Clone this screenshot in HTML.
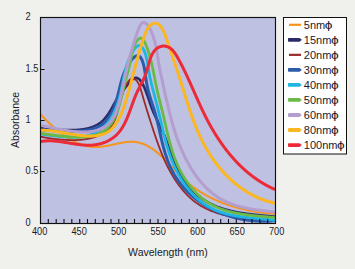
<!DOCTYPE html>
<html><head><meta charset="utf-8"><style>
html,body{margin:0;padding:0;background:#f0f0ec;}
body{width:355px;height:269px;overflow:hidden;}
svg{display:block;}
.t{font-family:"Liberation Sans",sans-serif;font-size:10.2px;fill:#1a1a2a;}
.t2{font-family:"Liberation Sans",sans-serif;font-size:10.5px;fill:#1a1a2a;}
.tl{font-family:"Liberation Sans",sans-serif;font-size:11px;fill:#1a1a2a;}
</style></head><body>
<svg width="355" height="269" viewBox="0 0 355 269">
<rect x="40" y="17" width="236" height="207" fill="#bec1e1"/>
<clipPath id="c"><rect x="40.5" y="17.5" width="235" height="206"/></clipPath>
<g clip-path="url(#c)" fill="none" stroke-linecap="round" stroke-linejoin="round">
<path d="M40.51 114.19 L40.95 114.66 L41.39 115.14 L41.84 115.61 L42.28 116.09 L42.74 116.57 L43.19 117.04 L43.65 117.52 L44.11 118.00 L44.57 118.48 L45.04 118.95 L45.50 119.43 L45.98 119.91 L46.45 120.38 L46.93 120.86 L47.41 121.34 L47.89 121.81 L48.37 122.28 L48.86 122.76 L49.35 123.23 L49.84 123.70 L50.34 124.16 L50.84 124.63 L51.34 125.10 L51.84 125.56 L52.35 126.02 L52.86 126.48 L53.37 126.94 L53.88 127.40 L54.40 127.85 L54.92 128.30 L55.44 128.75 L55.96 129.20 L56.49 129.64 L57.02 130.08 L57.55 130.52 L58.08 130.95 L58.62 131.38 L59.15 131.81 L59.69 132.23 L60.24 132.65 L60.78 133.07 L61.33 133.48 L61.88 133.89 L62.43 134.30 L62.98 134.70 L63.54 135.10 L64.10 135.49 L64.66 135.88 L65.22 136.26 L65.79 136.64 L66.36 137.01 L66.93 137.38 L67.50 137.75 L68.07 138.10 L68.65 138.46 L69.22 138.81 L69.80 139.15 L70.39 139.49 L70.97 139.82 L71.56 140.14 L72.15 140.46 L72.74 140.78 L73.33 141.08 L73.92 141.38 L74.52 141.68 L75.12 141.97 L75.72 142.25 L76.32 142.52 L76.92 142.79 L77.53 143.05 L78.13 143.30 L78.74 143.55 L79.35 143.79 L79.97 144.02 L80.58 144.25 L81.20 144.46 L81.82 144.67 L82.44 144.87 L83.06 145.06 L83.68 145.25 L84.31 145.43 L84.93 145.59 L85.56 145.75 L86.19 145.90 L86.82 146.05 L87.46 146.18 L88.09 146.30 L88.73 146.42 L89.37 146.53 L90.00 146.62 L90.65 146.71 L91.29 146.79 L91.93 146.86 L92.58 146.92 L93.23 146.96 L93.87 147.00 L94.52 147.03 L95.18 147.05 L95.83 147.06 L96.48 147.06 L97.14 147.05 L97.79 147.02 L98.45 146.99 L99.11 146.95 L99.77 146.89 L100.43 146.83 L101.10 146.77 L101.76 146.69 L102.42 146.60 L103.09 146.51 L103.76 146.42 L104.42 146.31 L105.09 146.20 L105.76 146.09 L106.43 145.97 L107.09 145.84 L107.76 145.71 L108.43 145.58 L109.10 145.44 L109.77 145.30 L110.44 145.16 L111.11 145.02 L111.78 144.87 L112.45 144.72 L113.12 144.57 L113.79 144.43 L114.46 144.28 L115.12 144.13 L115.79 143.98 L116.46 143.84 L117.12 143.69 L117.79 143.55 L118.46 143.41 L119.12 143.27 L119.78 143.14 L120.45 143.01 L121.11 142.88 L121.77 142.76 L122.43 142.64 L123.08 142.53 L123.74 142.42 L124.40 142.33 L125.05 142.23 L125.70 142.15 L126.35 142.07 L127.00 142.00 L127.65 141.93 L128.30 141.88 L128.94 141.83 L129.58 141.80 L130.22 141.77 L130.86 141.76 L131.49 141.75 L132.13 141.76 L132.76 141.78 L133.39 141.81 L134.02 141.85 L134.64 141.91 L135.26 141.97 L135.88 142.05 L136.50 142.15 L137.11 142.25 L137.73 142.37 L138.34 142.50 L138.94 142.64 L139.55 142.80 L140.15 142.96 L140.75 143.14 L141.35 143.33 L141.94 143.53 L142.53 143.73 L143.12 143.95 L143.71 144.18 L144.29 144.43 L144.87 144.68 L145.45 144.94 L146.03 145.21 L146.60 145.49 L147.17 145.77 L147.74 146.07 L148.31 146.38 L148.87 146.70 L149.43 147.02 L149.99 147.35 L150.54 147.69 L151.10 148.04 L151.65 148.40 L152.19 148.76 L152.74 149.13 L153.28 149.51 L153.82 149.90 L154.35 150.29 L154.89 150.69 L155.42 151.10 L155.95 151.51 L156.47 151.93 L157.00 152.35 L157.52 152.78 L158.03 153.22 L158.55 153.66 L159.06 154.11 L159.57 154.56 L160.08 155.01 L160.58 155.47 L161.08 155.94 L161.58 156.41 L162.08 156.88 L162.58 157.36 L163.07 157.84 L163.57 158.33 L164.06 158.81 L164.55 159.31 L165.04 159.80 L165.52 160.30 L166.01 160.80 L166.49 161.30 L166.98 161.80 L167.46 162.31 L167.94 162.81 L168.42 163.32 L168.90 163.83 L169.38 164.35 L169.86 164.86 L170.33 165.37 L170.81 165.89 L171.29 166.40 L171.76 166.92 L172.24 167.43 L172.71 167.95 L173.19 168.46 L173.67 168.98 L174.14 169.49 L174.62 170.00 L175.10 170.51 L175.57 171.02 L176.05 171.53 L176.53 172.04 L177.01 172.54 L177.49 173.05 L177.97 173.55 L178.45 174.05 L178.93 174.54 L179.42 175.04 L179.90 175.53 L180.39 176.01 L180.88 176.50 L181.37 176.98 L181.86 177.45 L182.35 177.93 L182.84 178.39 L183.34 178.86 L183.84 179.32 L184.34 179.78 L184.84 180.23 L185.34 180.68 L185.85 181.12 L186.35 181.56 L186.86 182.00 L187.37 182.43 L187.88 182.86 L188.40 183.29 L188.91 183.71 L189.43 184.13 L189.95 184.55 L190.47 184.96 L190.99 185.37 L191.52 185.77 L192.04 186.17 L192.57 186.57 L193.10 186.96 L193.64 187.35 L194.17 187.74 L194.71 188.13 L195.24 188.51 L195.79 188.88 L196.33 189.26 L196.87 189.63 L197.42 190.00 L197.97 190.36 L198.52 190.72 L199.07 191.08 L199.63 191.43 L200.18 191.79 L200.74 192.14 L201.30 192.48 L201.87 192.82 L202.43 193.16 L203.00 193.50 L203.57 193.83 L204.14 194.16 L204.71 194.49 L205.29 194.82 L205.87 195.14 L206.44 195.46 L207.03 195.77 L207.61 196.09 L208.19 196.40 L208.78 196.70 L209.37 197.01 L209.96 197.31 L210.55 197.61 L211.15 197.90 L211.74 198.19 L212.34 198.48 L212.94 198.77 L213.54 199.06 L214.14 199.34 L214.75 199.61 L215.35 199.89 L215.96 200.16 L216.57 200.43 L217.18 200.70 L217.79 200.96 L218.41 201.22 L219.02 201.48 L219.64 201.74 L220.26 201.99 L220.88 202.24 L221.50 202.49 L222.12 202.73 L222.74 202.97 L223.37 203.21 L224.00 203.45 L224.62 203.68 L225.25 203.91 L225.88 204.14 L226.51 204.36 L227.15 204.58 L227.78 204.80 L228.41 205.02 L229.05 205.23 L229.69 205.44 L230.32 205.65 L230.96 205.86 L231.60 206.06 L232.24 206.26 L232.89 206.46 L233.53 206.65 L234.17 206.85 L234.82 207.04 L235.46 207.22 L236.11 207.41 L236.76 207.59 L237.41 207.77 L238.06 207.94 L238.71 208.12 L239.36 208.29 L240.01 208.46 L240.66 208.62 L241.31 208.79 L241.97 208.95 L242.62 209.10 L243.28 209.26 L243.93 209.41 L244.59 209.56 L245.24 209.71 L245.90 209.86 L246.56 210.00 L247.22 210.14 L247.87 210.28 L248.53 210.41 L249.19 210.54 L249.85 210.67 L250.51 210.80 L251.17 210.93 L251.83 211.05 L252.50 211.17 L253.16 211.29 L253.82 211.40 L254.48 211.51 L255.14 211.62 L255.80 211.73 L256.47 211.83 L257.13 211.94 L257.79 212.04 L258.46 212.14 L259.12 212.23 L259.78 212.32 L260.45 212.41 L261.11 212.50 L261.77 212.59 L262.43 212.67 L263.10 212.75 L263.76 212.83 L264.42 212.90 L265.09 212.98 L265.75 213.05 L266.41 213.12 L267.07 213.18 L267.74 213.25 L268.40 213.31 L269.06 213.37 L269.72 213.43 L270.38 213.48 L271.04 213.53 L271.70 213.58 L272.36 213.63 L273.02 213.68 L273.68 213.72 L274.34 213.76 L275.00 213.80" stroke="#f7941d" stroke-width="2.0"/>
<path d="M40.50 128.20 L41.09 128.23 L41.67 128.27 L42.27 128.31 L42.87 128.35 L43.48 128.40 L44.09 128.45 L44.70 128.49 L45.33 128.54 L45.95 128.60 L46.59 128.65 L47.22 128.70 L47.86 128.76 L48.51 128.81 L49.16 128.87 L49.81 128.93 L50.47 128.99 L51.14 129.05 L51.80 129.10 L52.47 129.16 L53.14 129.22 L53.82 129.28 L54.50 129.33 L55.18 129.39 L55.87 129.45 L56.55 129.50 L57.24 129.55 L57.93 129.61 L58.63 129.66 L59.32 129.71 L60.02 129.75 L60.72 129.80 L61.42 129.84 L62.12 129.88 L62.83 129.92 L63.53 129.96 L64.24 129.99 L64.94 130.02 L65.65 130.05 L66.36 130.07 L67.06 130.09 L67.77 130.11 L68.48 130.13 L69.19 130.14 L69.89 130.14 L70.60 130.14 L71.31 130.14 L72.01 130.13 L72.71 130.12 L73.42 130.11 L74.12 130.09 L74.82 130.06 L75.52 130.03 L76.21 129.99 L76.91 129.95 L77.60 129.90 L78.29 129.85 L78.98 129.79 L79.66 129.72 L80.35 129.65 L81.02 129.57 L81.70 129.49 L82.38 129.40 L83.05 129.30 L83.71 129.19 L84.38 129.08 L85.03 128.96 L85.69 128.83 L86.34 128.70 L86.99 128.55 L87.63 128.40 L88.27 128.24 L88.90 128.08 L89.53 127.90 L90.15 127.71 L90.77 127.52 L91.39 127.32 L91.99 127.11 L92.59 126.89 L93.19 126.66 L93.78 126.42 L94.36 126.17 L94.94 125.91 L95.51 125.64 L96.08 125.36 L96.64 125.07 L97.19 124.77 L97.73 124.46 L98.27 124.13 L98.80 123.80 L99.32 123.46 L99.83 123.10 L100.34 122.74 L100.84 122.36 L101.33 121.97 L101.81 121.57 L102.28 121.15 L102.75 120.73 L103.20 120.29 L103.65 119.84 L104.09 119.38 L104.53 118.90 L104.95 118.42 L105.37 117.93 L105.78 117.43 L106.18 116.92 L106.58 116.40 L106.97 115.87 L107.36 115.33 L107.74 114.79 L108.11 114.24 L108.48 113.68 L108.85 113.12 L109.21 112.55 L109.57 111.98 L109.92 111.40 L110.27 110.82 L110.62 110.23 L110.96 109.64 L111.30 109.05 L111.64 108.45 L111.97 107.86 L112.31 107.26 L112.64 106.66 L112.97 106.05 L113.30 105.45 L113.63 104.85 L113.96 104.25 L114.29 103.65 L114.62 103.05 L114.95 102.45 L115.28 101.86 L115.62 101.27 L115.95 100.68 L116.28 100.09 L116.62 99.51 L116.96 98.93 L117.30 98.36 L117.64 97.79 L117.99 97.23 L118.34 96.68 L118.69 96.13 L119.05 95.59 L119.41 95.05 L119.78 94.52 L120.15 94.00 L120.52 93.48 L120.90 92.97 L121.28 92.45 L121.67 91.94 L122.07 91.43 L122.47 90.92 L122.87 90.41 L123.29 89.90 L123.70 89.38 L124.13 88.86 L124.56 88.34 L124.99 87.81 L125.44 87.28 L125.89 86.74 L126.34 86.19 L126.81 85.63 L127.28 85.06 L127.76 84.48 L128.24 83.90 L128.73 83.31 L129.23 82.72 L129.73 82.14 L130.24 81.57 L130.74 81.02 L131.25 80.50 L131.75 80.01 L132.26 79.55 L132.76 79.14 L133.25 78.78 L133.74 78.47 L134.23 78.23 L134.70 78.04 L135.17 77.92 L135.64 77.85 L136.09 77.84 L136.54 77.89 L136.98 77.98 L137.42 78.13 L137.84 78.32 L138.26 78.56 L138.68 78.85 L139.08 79.17 L139.48 79.54 L139.88 79.94 L140.26 80.38 L140.64 80.85 L141.02 81.35 L141.38 81.88 L141.74 82.44 L142.10 83.02 L142.44 83.63 L142.78 84.26 L143.12 84.90 L143.44 85.56 L143.77 86.24 L144.08 86.92 L144.39 87.62 L144.69 88.33 L144.99 89.04 L145.28 89.75 L145.56 90.47 L145.84 91.19 L146.11 91.90 L146.38 92.61 L146.64 93.32 L146.89 94.02 L147.14 94.71 L147.38 95.39 L147.62 96.07 L147.86 96.75 L148.09 97.42 L148.32 98.09 L148.54 98.75 L148.76 99.40 L148.98 100.05 L149.20 100.70 L149.42 101.34 L149.64 101.98 L149.85 102.62 L150.07 103.25 L150.28 103.87 L150.49 104.50 L150.71 105.12 L150.93 105.74 L151.15 106.35 L151.37 106.96 L151.59 107.57 L151.81 108.18 L152.04 108.78 L152.27 109.39 L152.51 109.99 L152.74 110.59 L152.99 111.18 L153.24 111.78 L153.49 112.37 L153.75 112.97 L154.01 113.56 L154.27 114.15 L154.54 114.74 L154.81 115.33 L155.09 115.92 L155.37 116.51 L155.65 117.10 L155.93 117.68 L156.22 118.27 L156.51 118.86 L156.80 119.45 L157.09 120.03 L157.39 120.62 L157.68 121.21 L157.97 121.80 L158.27 122.39 L158.57 122.98 L158.86 123.57 L159.16 124.16 L159.45 124.75 L159.75 125.34 L160.04 125.94 L160.34 126.53 L160.63 127.13 L160.92 127.73 L161.21 128.33 L161.49 128.93 L161.78 129.54 L162.06 130.14 L162.34 130.75 L162.61 131.36 L162.89 131.97 L163.16 132.59 L163.42 133.21 L163.68 133.83 L163.94 134.45 L164.20 135.07 L164.46 135.70 L164.71 136.32 L164.96 136.95 L165.21 137.58 L165.45 138.21 L165.69 138.85 L165.94 139.48 L166.17 140.12 L166.41 140.75 L166.65 141.39 L166.88 142.03 L167.12 142.67 L167.35 143.31 L167.58 143.95 L167.81 144.59 L168.04 145.24 L168.26 145.88 L168.49 146.53 L168.72 147.17 L168.95 147.81 L169.17 148.46 L169.40 149.10 L169.62 149.75 L169.85 150.39 L170.08 151.04 L170.30 151.68 L170.53 152.33 L170.76 152.97 L170.98 153.61 L171.21 154.26 L171.44 154.90 L171.67 155.54 L171.90 156.18 L172.14 156.82 L172.37 157.46 L172.61 158.10 L172.85 158.73 L173.09 159.37 L173.33 160.00 L173.57 160.64 L173.81 161.27 L174.06 161.90 L174.31 162.52 L174.56 163.15 L174.82 163.78 L175.08 164.40 L175.34 165.02 L175.60 165.64 L175.86 166.25 L176.13 166.87 L176.41 167.48 L176.68 168.09 L176.96 168.70 L177.24 169.30 L177.53 169.90 L177.82 170.50 L178.12 171.10 L178.41 171.69 L178.72 172.28 L179.02 172.87 L179.34 173.45 L179.65 174.03 L179.97 174.61 L180.30 175.19 L180.63 175.76 L180.97 176.32 L181.31 176.89 L181.65 177.45 L182.00 178.00 L182.36 178.56 L182.72 179.11 L183.08 179.65 L183.45 180.19 L183.83 180.73 L184.21 181.27 L184.59 181.80 L184.98 182.32 L185.38 182.85 L185.78 183.36 L186.18 183.88 L186.59 184.39 L187.00 184.90 L187.42 185.40 L187.84 185.90 L188.26 186.40 L188.69 186.89 L189.13 187.37 L189.57 187.86 L190.01 188.34 L190.46 188.81 L190.91 189.28 L191.37 189.75 L191.83 190.21 L192.29 190.67 L192.76 191.12 L193.23 191.57 L193.71 192.02 L194.19 192.46 L194.68 192.90 L195.16 193.33 L195.66 193.76 L196.15 194.18 L196.65 194.60 L197.16 195.02 L197.67 195.43 L198.18 195.84 L198.69 196.24 L199.21 196.64 L199.73 197.03 L200.26 197.42 L200.79 197.80 L201.32 198.18 L201.86 198.55 L202.40 198.92 L202.95 199.29 L203.49 199.65 L204.04 200.01 L204.60 200.36 L205.16 200.70 L205.72 201.05 L206.28 201.38 L206.85 201.72 L207.42 202.04 L207.99 202.37 L208.57 202.68 L209.15 203.00 L209.73 203.30 L210.32 203.61 L210.91 203.90 L211.50 204.20 L212.09 204.48 L212.69 204.77 L213.29 205.05 L213.90 205.32 L214.50 205.59 L215.11 205.85 L215.72 206.11 L216.34 206.36 L216.95 206.61 L217.57 206.85 L218.19 207.09 L218.82 207.32 L219.45 207.55 L220.08 207.77 L220.71 207.99 L221.34 208.21 L221.98 208.42 L222.61 208.62 L223.25 208.82 L223.90 209.02 L224.54 209.21 L225.18 209.40 L225.83 209.59 L226.48 209.77 L227.13 209.95 L227.79 210.12 L228.44 210.29 L229.10 210.46 L229.75 210.62 L230.41 210.78 L231.07 210.94 L231.73 211.09 L232.40 211.24 L233.06 211.38 L233.73 211.52 L234.39 211.66 L235.06 211.80 L235.73 211.93 L236.40 212.06 L237.07 212.19 L237.74 212.31 L238.41 212.43 L239.08 212.55 L239.76 212.67 L240.43 212.78 L241.11 212.89 L241.78 213.00 L242.46 213.11 L243.13 213.21 L243.81 213.31 L244.49 213.41 L245.16 213.51 L245.84 213.60 L246.52 213.69 L247.19 213.78 L247.87 213.87 L248.55 213.96 L249.23 214.05 L249.90 214.13 L250.58 214.21 L251.26 214.29 L251.93 214.37 L252.61 214.45 L253.29 214.53 L253.96 214.60 L254.64 214.67 L255.31 214.75 L255.98 214.82 L256.66 214.89 L257.33 214.96 L258.00 215.03 L258.67 215.09 L259.34 215.16 L260.01 215.23 L260.67 215.29 L261.34 215.36 L262.01 215.42 L262.67 215.49 L263.33 215.55 L264.00 215.61 L264.66 215.68 L265.31 215.74 L265.97 215.80 L266.63 215.87 L267.28 215.93 L267.94 215.99 L268.59 216.05 L269.24 216.12 L269.88 216.18 L270.53 216.24 L271.17 216.31 L271.82 216.37 L272.46 216.44 L273.09 216.50 L273.73 216.57 L274.36 216.64 L275.00 216.70" stroke="#2a2c6a" stroke-width="2.6"/>
<path d="M40.51 136.69 L41.08 136.80 L41.65 136.91 L42.23 137.01 L42.81 137.12 L43.40 137.23 L44.00 137.34 L44.60 137.44 L45.21 137.55 L45.82 137.65 L46.44 137.75 L47.07 137.86 L47.70 137.96 L48.33 138.06 L48.97 138.15 L49.62 138.25 L50.27 138.35 L50.92 138.44 L51.58 138.53 L52.24 138.63 L52.90 138.71 L53.57 138.80 L54.25 138.89 L54.92 138.97 L55.60 139.05 L56.29 139.13 L56.97 139.21 L57.66 139.28 L58.35 139.35 L59.05 139.42 L59.74 139.49 L60.44 139.55 L61.14 139.61 L61.85 139.67 L62.55 139.72 L63.26 139.77 L63.97 139.82 L64.68 139.86 L65.39 139.90 L66.10 139.94 L66.81 139.97 L67.53 140.00 L68.24 140.03 L68.95 140.05 L69.67 140.07 L70.38 140.08 L71.10 140.09 L71.81 140.10 L72.53 140.10 L73.24 140.09 L73.96 140.09 L74.67 140.07 L75.38 140.06 L76.09 140.03 L76.80 140.01 L77.51 139.97 L78.22 139.94 L78.92 139.89 L79.62 139.85 L80.33 139.79 L81.02 139.73 L81.72 139.67 L82.42 139.60 L83.11 139.52 L83.80 139.44 L84.48 139.35 L85.17 139.26 L85.85 139.16 L86.52 139.06 L87.20 138.94 L87.87 138.83 L88.53 138.70 L89.20 138.57 L89.85 138.43 L90.51 138.29 L91.16 138.13 L91.80 137.97 L92.44 137.81 L93.08 137.64 L93.71 137.46 L94.33 137.27 L94.95 137.07 L95.57 136.87 L96.18 136.66 L96.78 136.44 L97.38 136.22 L97.97 135.98 L98.55 135.74 L99.13 135.49 L99.70 135.24 L100.27 134.97 L100.83 134.70 L101.38 134.42 L101.92 134.12 L102.46 133.83 L102.99 133.52 L103.51 133.20 L104.03 132.88 L104.53 132.54 L105.03 132.20 L105.52 131.84 L106.01 131.48 L106.48 131.11 L106.95 130.73 L107.40 130.34 L107.85 129.94 L108.29 129.53 L108.72 129.11 L109.14 128.68 L109.55 128.24 L109.95 127.79 L110.34 127.34 L110.72 126.87 L111.09 126.39 L111.45 125.90 L111.80 125.40 L112.14 124.88 L112.47 124.36 L112.79 123.83 L113.10 123.29 L113.41 122.74 L113.70 122.18 L113.99 121.62 L114.26 121.04 L114.53 120.46 L114.80 119.86 L115.05 119.26 L115.30 118.66 L115.55 118.04 L115.78 117.42 L116.01 116.79 L116.24 116.16 L116.46 115.52 L116.68 114.87 L116.89 114.22 L117.10 113.56 L117.30 112.89 L117.50 112.22 L117.70 111.55 L117.90 110.87 L118.09 110.19 L118.28 109.51 L118.47 108.82 L118.66 108.12 L118.85 107.43 L119.03 106.73 L119.22 106.02 L119.40 105.32 L119.59 104.61 L119.77 103.90 L119.96 103.19 L120.15 102.48 L120.34 101.77 L120.53 101.05 L120.72 100.34 L120.92 99.62 L121.12 98.91 L121.32 98.19 L121.53 97.48 L121.73 96.76 L121.95 96.05 L122.17 95.33 L122.39 94.62 L122.62 93.91 L122.85 93.21 L123.09 92.50 L123.33 91.80 L123.58 91.10 L123.84 90.40 L124.10 89.70 L124.38 89.01 L124.66 88.32 L124.94 87.64 L125.24 86.96 L125.54 86.28 L125.86 85.62 L126.18 84.97 L126.51 84.33 L126.84 83.71 L127.19 83.10 L127.54 82.53 L127.90 81.97 L128.26 81.45 L128.64 80.96 L129.02 80.50 L129.41 80.08 L129.80 79.70 L130.20 79.36 L130.61 79.07 L131.02 78.83 L131.45 78.63 L131.87 78.50 L132.31 78.41 L132.75 78.39 L133.19 78.43 L133.64 78.54 L134.10 78.72 L134.56 78.96 L135.02 79.26 L135.48 79.62 L135.93 80.02 L136.36 80.48 L136.78 80.96 L137.19 81.48 L137.57 82.03 L137.93 82.61 L138.28 83.21 L138.61 83.83 L138.92 84.48 L139.22 85.14 L139.51 85.82 L139.78 86.51 L140.04 87.22 L140.30 87.94 L140.54 88.67 L140.78 89.40 L141.00 90.14 L141.23 90.89 L141.44 91.63 L141.66 92.38 L141.87 93.12 L142.08 93.86 L142.29 94.59 L142.50 95.32 L142.71 96.04 L142.92 96.75 L143.12 97.47 L143.33 98.17 L143.53 98.88 L143.74 99.57 L143.94 100.27 L144.15 100.96 L144.35 101.64 L144.55 102.32 L144.75 103.00 L144.95 103.67 L145.16 104.34 L145.36 105.01 L145.56 105.67 L145.75 106.33 L145.95 106.99 L146.15 107.64 L146.35 108.29 L146.55 108.93 L146.75 109.58 L146.94 110.22 L147.14 110.86 L147.34 111.49 L147.53 112.13 L147.73 112.76 L147.93 113.39 L148.12 114.01 L148.32 114.64 L148.51 115.26 L148.71 115.88 L148.91 116.51 L149.10 117.12 L149.30 117.74 L149.49 118.36 L149.69 118.97 L149.89 119.59 L150.08 120.20 L150.28 120.81 L150.48 121.43 L150.67 122.04 L150.87 122.65 L151.07 123.26 L151.26 123.87 L151.46 124.48 L151.66 125.09 L151.86 125.70 L152.06 126.31 L152.26 126.92 L152.46 127.54 L152.66 128.15 L152.86 128.76 L153.06 129.38 L153.26 129.99 L153.46 130.61 L153.67 131.22 L153.87 131.84 L154.07 132.46 L154.28 133.08 L154.48 133.69 L154.69 134.31 L154.90 134.93 L155.11 135.55 L155.32 136.17 L155.53 136.79 L155.74 137.42 L155.95 138.04 L156.16 138.66 L156.38 139.28 L156.59 139.90 L156.81 140.53 L157.03 141.15 L157.25 141.77 L157.47 142.40 L157.69 143.02 L157.91 143.64 L158.14 144.27 L158.37 144.89 L158.59 145.51 L158.82 146.14 L159.05 146.76 L159.29 147.38 L159.52 148.01 L159.76 148.63 L160.00 149.25 L160.24 149.88 L160.48 150.50 L160.72 151.12 L160.97 151.74 L161.21 152.36 L161.46 152.99 L161.71 153.61 L161.97 154.23 L162.22 154.85 L162.48 155.47 L162.74 156.09 L163.00 156.71 L163.27 157.33 L163.53 157.94 L163.80 158.56 L164.07 159.18 L164.35 159.79 L164.62 160.41 L164.90 161.02 L165.18 161.64 L165.47 162.25 L165.75 162.86 L166.04 163.48 L166.33 164.09 L166.63 164.70 L166.92 165.31 L167.22 165.91 L167.53 166.52 L167.83 167.13 L168.14 167.73 L168.45 168.34 L168.77 168.94 L169.08 169.54 L169.40 170.14 L169.73 170.74 L170.05 171.34 L170.38 171.94 L170.72 172.53 L171.05 173.13 L171.39 173.72 L171.73 174.31 L172.08 174.90 L172.42 175.49 L172.77 176.07 L173.13 176.65 L173.49 177.23 L173.85 177.81 L174.21 178.39 L174.57 178.96 L174.94 179.54 L175.32 180.11 L175.69 180.67 L176.07 181.24 L176.45 181.80 L176.84 182.36 L177.23 182.92 L177.62 183.47 L178.01 184.02 L178.41 184.57 L178.81 185.12 L179.22 185.66 L179.62 186.20 L180.04 186.74 L180.45 187.27 L180.87 187.80 L181.29 188.33 L181.71 188.85 L182.14 189.37 L182.57 189.88 L183.01 190.40 L183.44 190.90 L183.88 191.41 L184.33 191.91 L184.78 192.41 L185.23 192.90 L185.68 193.39 L186.14 193.87 L186.60 194.35 L187.06 194.83 L187.53 195.30 L188.00 195.77 L188.48 196.23 L188.96 196.69 L189.44 197.15 L189.92 197.60 L190.41 198.04 L190.91 198.48 L191.40 198.92 L191.90 199.35 L192.40 199.77 L192.91 200.20 L193.42 200.61 L193.93 201.02 L194.45 201.43 L194.97 201.83 L195.49 202.22 L196.02 202.61 L196.55 202.99 L197.09 203.37 L197.63 203.74 L198.17 204.11 L198.72 204.47 L199.26 204.82 L199.82 205.17 L200.37 205.52 L200.93 205.86 L201.50 206.19 L202.06 206.52 L202.63 206.84 L203.21 207.15 L203.78 207.47 L204.36 207.77 L204.95 208.07 L205.53 208.37 L206.12 208.66 L206.71 208.94 L207.31 209.22 L207.90 209.50 L208.50 209.77 L209.11 210.04 L209.71 210.30 L210.32 210.55 L210.93 210.81 L211.55 211.05 L212.16 211.29 L212.78 211.53 L213.40 211.77 L214.02 211.99 L214.65 212.22 L215.28 212.44 L215.91 212.65 L216.54 212.87 L217.18 213.07 L217.81 213.28 L218.45 213.48 L219.09 213.67 L219.73 213.86 L220.38 214.05 L221.02 214.23 L221.67 214.41 L222.32 214.59 L222.97 214.76 L223.63 214.93 L224.28 215.09 L224.94 215.25 L225.59 215.41 L226.25 215.56 L226.91 215.72 L227.58 215.86 L228.24 216.01 L228.90 216.15 L229.57 216.28 L230.24 216.42 L230.90 216.55 L231.57 216.68 L232.24 216.80 L232.91 216.92 L233.59 217.04 L234.26 217.16 L234.93 217.27 L235.61 217.38 L236.28 217.49 L236.96 217.60 L237.63 217.70 L238.31 217.80 L238.99 217.89 L239.67 217.99 L240.34 218.08 L241.02 218.17 L241.70 218.26 L242.38 218.35 L243.06 218.43 L243.74 218.51 L244.42 218.59 L245.10 218.67 L245.78 218.74 L246.46 218.81 L247.14 218.88 L247.82 218.95 L248.50 219.02 L249.18 219.09 L249.86 219.15 L250.54 219.21 L251.22 219.27 L251.89 219.33 L252.57 219.39 L253.25 219.44 L253.93 219.50 L254.60 219.55 L255.28 219.60 L255.95 219.66 L256.63 219.70 L257.30 219.75 L257.97 219.80 L258.64 219.85 L259.31 219.89 L259.98 219.93 L260.65 219.98 L261.32 220.02 L261.99 220.06 L262.65 220.10 L263.31 220.14 L263.98 220.18 L264.64 220.22 L265.30 220.26 L265.96 220.30 L266.61 220.33 L267.27 220.37 L267.92 220.41 L268.58 220.44 L269.23 220.48 L269.88 220.51 L270.52 220.55 L271.17 220.59 L271.81 220.62 L272.45 220.66 L273.09 220.69 L273.73 220.73 L274.37 220.76 L275.00 220.80" stroke="#9a2b2b" stroke-width="1.8"/>
<path d="M40.50 130.00 L41.02 130.00 L41.54 130.01 L42.07 130.02 L42.61 130.03 L43.16 130.05 L43.72 130.07 L44.28 130.09 L44.86 130.11 L45.44 130.14 L46.03 130.17 L46.62 130.20 L47.23 130.24 L47.84 130.27 L48.46 130.31 L49.08 130.35 L49.71 130.39 L50.35 130.43 L50.99 130.47 L51.64 130.51 L52.30 130.56 L52.96 130.60 L53.62 130.65 L54.29 130.69 L54.97 130.74 L55.65 130.78 L56.33 130.83 L57.02 130.87 L57.72 130.92 L58.41 130.96 L59.11 131.00 L59.81 131.04 L60.52 131.08 L61.23 131.12 L61.94 131.16 L62.66 131.19 L63.38 131.23 L64.10 131.26 L64.82 131.29 L65.54 131.31 L66.27 131.34 L66.99 131.36 L67.72 131.38 L68.45 131.39 L69.18 131.41 L69.91 131.42 L70.64 131.42 L71.37 131.42 L72.10 131.42 L72.83 131.42 L73.56 131.41 L74.29 131.39 L75.02 131.37 L75.75 131.35 L76.47 131.32 L77.20 131.29 L77.92 131.25 L78.64 131.21 L79.36 131.16 L80.08 131.10 L80.79 131.04 L81.51 130.98 L82.22 130.91 L82.92 130.83 L83.62 130.74 L84.32 130.65 L85.02 130.55 L85.71 130.45 L86.40 130.34 L87.08 130.22 L87.76 130.09 L88.44 129.96 L89.11 129.81 L89.77 129.66 L90.43 129.51 L91.09 129.34 L91.74 129.17 L92.38 128.98 L93.02 128.79 L93.65 128.59 L94.27 128.38 L94.89 128.16 L95.50 127.94 L96.10 127.70 L96.70 127.45 L97.29 127.19 L97.87 126.93 L98.44 126.65 L99.00 126.36 L99.56 126.07 L100.11 125.76 L100.65 125.44 L101.18 125.11 L101.70 124.77 L102.21 124.41 L102.72 124.05 L103.21 123.68 L103.69 123.29 L104.17 122.89 L104.63 122.48 L105.08 122.06 L105.53 121.62 L105.96 121.18 L106.39 120.72 L106.80 120.26 L107.21 119.78 L107.61 119.30 L107.99 118.80 L108.38 118.30 L108.75 117.79 L109.11 117.26 L109.47 116.73 L109.81 116.20 L110.15 115.65 L110.49 115.09 L110.81 114.53 L111.13 113.96 L111.44 113.39 L111.74 112.81 L112.04 112.22 L112.33 111.62 L112.61 111.02 L112.88 110.41 L113.15 109.80 L113.42 109.18 L113.68 108.56 L113.93 107.94 L114.17 107.30 L114.41 106.67 L114.65 106.03 L114.88 105.39 L115.10 104.74 L115.32 104.10 L115.54 103.45 L115.75 102.79 L115.96 102.14 L116.16 101.48 L116.36 100.82 L116.55 100.16 L116.74 99.50 L116.93 98.84 L117.11 98.17 L117.29 97.51 L117.46 96.85 L117.64 96.18 L117.81 95.52 L117.97 94.86 L118.14 94.20 L118.30 93.53 L118.46 92.87 L118.62 92.21 L118.78 91.55 L118.94 90.90 L119.09 90.24 L119.25 89.58 L119.41 88.92 L119.56 88.27 L119.72 87.61 L119.88 86.96 L120.03 86.31 L120.19 85.66 L120.35 85.01 L120.52 84.36 L120.68 83.71 L120.85 83.06 L121.02 82.41 L121.19 81.77 L121.37 81.12 L121.55 80.48 L121.74 79.84 L121.92 79.20 L122.12 78.56 L122.31 77.92 L122.52 77.28 L122.72 76.64 L122.94 76.01 L123.15 75.38 L123.38 74.75 L123.61 74.12 L123.85 73.49 L124.09 72.86 L124.35 72.24 L124.61 71.61 L124.87 70.99 L125.15 70.37 L125.43 69.75 L125.73 69.13 L126.03 68.52 L126.34 67.90 L126.66 67.29 L126.99 66.68 L127.33 66.07 L127.68 65.47 L128.04 64.86 L128.41 64.26 L128.80 63.66 L129.19 63.06 L129.60 62.47 L130.02 61.87 L130.44 61.29 L130.88 60.71 L131.33 60.15 L131.78 59.61 L132.24 59.08 L132.70 58.58 L133.17 58.11 L133.64 57.66 L134.11 57.26 L134.58 56.89 L135.05 56.56 L135.52 56.27 L135.99 56.03 L136.45 55.85 L136.91 55.71 L137.36 55.64 L137.80 55.63 L138.24 55.68 L138.66 55.80 L139.08 55.99 L139.48 56.25 L139.87 56.60 L140.25 57.01 L140.62 57.49 L140.97 58.02 L141.30 58.61 L141.63 59.24 L141.94 59.92 L142.23 60.62 L142.51 61.35 L142.77 62.11 L143.02 62.87 L143.26 63.65 L143.47 64.42 L143.68 65.20 L143.87 65.98 L144.05 66.77 L144.21 67.55 L144.36 68.33 L144.51 69.11 L144.65 69.89 L144.77 70.66 L144.90 71.44 L145.01 72.21 L145.12 72.97 L145.23 73.74 L145.33 74.49 L145.43 75.24 L145.53 75.99 L145.63 76.73 L145.73 77.46 L145.84 78.18 L145.94 78.89 L146.05 79.60 L146.16 80.30 L146.27 80.99 L146.38 81.67 L146.50 82.35 L146.62 83.02 L146.74 83.69 L146.86 84.35 L146.99 85.00 L147.12 85.65 L147.25 86.30 L147.38 86.94 L147.52 87.57 L147.66 88.20 L147.80 88.83 L147.94 89.45 L148.09 90.07 L148.24 90.69 L148.40 91.30 L148.55 91.91 L148.71 92.52 L148.88 93.12 L149.04 93.73 L149.21 94.33 L149.39 94.93 L149.56 95.53 L149.74 96.13 L149.92 96.73 L150.11 97.33 L150.30 97.93 L150.49 98.52 L150.68 99.12 L150.87 99.72 L151.07 100.32 L151.26 100.92 L151.46 101.51 L151.66 102.11 L151.86 102.71 L152.06 103.31 L152.26 103.91 L152.46 104.52 L152.66 105.12 L152.86 105.73 L153.06 106.33 L153.26 106.94 L153.46 107.55 L153.65 108.16 L153.85 108.78 L154.04 109.40 L154.23 110.01 L154.42 110.64 L154.60 111.26 L154.79 111.89 L154.97 112.52 L155.15 113.15 L155.33 113.78 L155.51 114.42 L155.68 115.06 L155.85 115.70 L156.02 116.34 L156.19 116.99 L156.36 117.64 L156.53 118.28 L156.69 118.94 L156.86 119.59 L157.02 120.24 L157.18 120.90 L157.34 121.56 L157.50 122.22 L157.66 122.88 L157.82 123.54 L157.97 124.20 L158.13 124.87 L158.29 125.53 L158.44 126.20 L158.60 126.87 L158.75 127.53 L158.91 128.20 L159.06 128.88 L159.21 129.55 L159.37 130.22 L159.52 130.89 L159.68 131.57 L159.83 132.24 L159.99 132.91 L160.14 133.59 L160.30 134.26 L160.45 134.94 L160.61 135.62 L160.77 136.29 L160.92 136.97 L161.08 137.64 L161.24 138.32 L161.40 139.00 L161.57 139.67 L161.73 140.35 L161.89 141.02 L162.06 141.70 L162.22 142.37 L162.39 143.05 L162.56 143.72 L162.73 144.39 L162.91 145.07 L163.08 145.74 L163.26 146.41 L163.44 147.08 L163.62 147.75 L163.80 148.41 L163.98 149.08 L164.17 149.75 L164.36 150.41 L164.55 151.07 L164.74 151.74 L164.94 152.40 L165.14 153.06 L165.34 153.71 L165.55 154.37 L165.75 155.02 L165.96 155.68 L166.18 156.33 L166.39 156.98 L166.61 157.62 L166.83 158.27 L167.06 158.91 L167.29 159.55 L167.52 160.19 L167.76 160.83 L168.00 161.46 L168.24 162.09 L168.49 162.72 L168.74 163.35 L168.99 163.97 L169.25 164.60 L169.51 165.21 L169.78 165.83 L170.05 166.44 L170.33 167.06 L170.61 167.66 L170.89 168.27 L171.18 168.87 L171.47 169.47 L171.77 170.06 L172.07 170.66 L172.38 171.24 L172.69 171.83 L173.01 172.41 L173.33 172.99 L173.65 173.57 L173.98 174.14 L174.32 174.71 L174.65 175.28 L175.00 175.84 L175.34 176.40 L175.69 176.96 L176.05 177.51 L176.41 178.06 L176.77 178.61 L177.14 179.15 L177.51 179.70 L177.88 180.23 L178.26 180.77 L178.65 181.30 L179.04 181.83 L179.43 182.35 L179.82 182.87 L180.22 183.39 L180.63 183.91 L181.03 184.42 L181.44 184.93 L181.86 185.43 L182.28 185.93 L182.70 186.43 L183.13 186.93 L183.56 187.42 L183.99 187.91 L184.43 188.39 L184.87 188.87 L185.31 189.35 L185.76 189.83 L186.21 190.30 L186.67 190.77 L187.13 191.23 L187.59 191.69 L188.06 192.15 L188.52 192.61 L189.00 193.06 L189.47 193.51 L189.95 193.95 L190.43 194.39 L190.92 194.83 L191.41 195.26 L191.90 195.70 L192.40 196.12 L192.89 196.55 L193.40 196.97 L193.90 197.39 L194.41 197.80 L194.92 198.21 L195.43 198.62 L195.95 199.02 L196.47 199.42 L196.99 199.82 L197.52 200.21 L198.05 200.60 L198.58 200.99 L199.11 201.37 L199.65 201.75 L200.19 202.13 L200.73 202.50 L201.28 202.87 L201.82 203.23 L202.37 203.59 L202.93 203.95 L203.48 204.31 L204.04 204.66 L204.60 205.01 L205.17 205.35 L205.73 205.69 L206.30 206.03 L206.87 206.36 L207.44 206.69 L208.02 207.02 L208.60 207.34 L209.18 207.66 L209.76 207.98 L210.35 208.29 L210.93 208.60 L211.52 208.90 L212.12 209.20 L212.71 209.50 L213.30 209.79 L213.90 210.09 L214.50 210.37 L215.11 210.66 L215.71 210.94 L216.32 211.21 L216.92 211.48 L217.53 211.75 L218.15 212.02 L218.76 212.28 L219.38 212.54 L220.00 212.79 L220.61 213.04 L221.24 213.29 L221.86 213.53 L222.48 213.77 L223.11 214.01 L223.74 214.24 L224.37 214.47 L225.00 214.69 L225.63 214.91 L226.27 215.13 L226.91 215.34 L227.54 215.55 L228.18 215.76 L228.82 215.96 L229.47 216.16 L230.11 216.35 L230.75 216.54 L231.40 216.73 L232.05 216.91 L232.70 217.09 L233.35 217.27 L234.00 217.44 L234.65 217.61 L235.31 217.77 L235.96 217.94 L236.62 218.09 L237.27 218.25 L237.93 218.39 L238.59 218.54 L239.25 218.68 L239.91 218.82 L240.58 218.95 L241.24 219.08 L241.90 219.21 L242.57 219.33 L243.24 219.45 L243.90 219.57 L244.57 219.68 L245.24 219.78 L245.91 219.89 L246.58 219.99 L247.25 220.08 L247.92 220.17 L248.59 220.26 L249.26 220.34 L249.94 220.42 L250.61 220.50 L251.28 220.57 L251.96 220.64 L252.63 220.70 L253.31 220.76 L253.99 220.82 L254.66 220.87 L255.34 220.92 L256.02 220.97 L256.69 221.01 L257.37 221.04 L258.05 221.08 L258.73 221.10 L259.41 221.13 L260.09 221.15 L260.76 221.17 L261.44 221.18 L262.12 221.19 L262.80 221.19 L263.48 221.19 L264.16 221.19 L264.84 221.18 L265.52 221.17 L266.20 221.15 L266.88 221.14 L267.56 221.11 L268.23 221.08 L268.91 221.05 L269.59 221.02 L270.27 220.98 L270.95 220.93 L271.62 220.89 L272.30 220.83 L272.98 220.78 L273.65 220.72 L274.33 220.65 L275.01 220.59" stroke="#2d5bab" stroke-width="3.0"/>
<path d="M40.51 134.00 L41.08 134.07 L41.65 134.15 L42.23 134.23 L42.82 134.31 L43.42 134.39 L44.02 134.48 L44.63 134.56 L45.24 134.65 L45.86 134.73 L46.49 134.82 L47.12 134.91 L47.75 134.99 L48.40 135.08 L49.04 135.17 L49.69 135.26 L50.35 135.34 L51.01 135.43 L51.67 135.51 L52.34 135.60 L53.02 135.68 L53.69 135.77 L54.37 135.85 L55.06 135.93 L55.74 136.01 L56.43 136.09 L57.12 136.16 L57.82 136.24 L58.52 136.31 L59.22 136.38 L59.92 136.44 L60.62 136.51 L61.33 136.57 L62.04 136.63 L62.75 136.69 L63.46 136.74 L64.17 136.79 L64.88 136.84 L65.60 136.88 L66.31 136.92 L67.03 136.95 L67.74 136.98 L68.46 137.01 L69.17 137.03 L69.89 137.05 L70.60 137.06 L71.31 137.07 L72.03 137.08 L72.74 137.08 L73.45 137.07 L74.16 137.06 L74.87 137.04 L75.57 137.02 L76.28 136.99 L76.98 136.96 L77.68 136.91 L78.38 136.87 L79.07 136.81 L79.77 136.75 L80.46 136.69 L81.14 136.61 L81.83 136.53 L82.51 136.45 L83.18 136.35 L83.85 136.25 L84.52 136.14 L85.19 136.02 L85.85 135.90 L86.50 135.76 L87.16 135.62 L87.80 135.47 L88.44 135.31 L89.08 135.15 L89.71 134.97 L90.34 134.79 L90.96 134.59 L91.57 134.39 L92.18 134.18 L92.78 133.96 L93.38 133.73 L93.97 133.48 L94.55 133.23 L95.12 132.97 L95.69 132.70 L96.25 132.42 L96.81 132.13 L97.35 131.82 L97.89 131.51 L98.42 131.19 L98.95 130.86 L99.47 130.51 L99.98 130.16 L100.48 129.80 L100.98 129.43 L101.47 129.05 L101.95 128.66 L102.43 128.27 L102.90 127.86 L103.36 127.45 L103.82 127.02 L104.27 126.59 L104.71 126.15 L105.15 125.70 L105.58 125.25 L106.00 124.79 L106.42 124.32 L106.83 123.84 L107.24 123.35 L107.63 122.86 L108.03 122.36 L108.41 121.86 L108.79 121.34 L109.17 120.82 L109.54 120.30 L109.90 119.77 L110.26 119.23 L110.61 118.68 L110.95 118.14 L111.29 117.58 L111.63 117.02 L111.95 116.45 L112.28 115.88 L112.59 115.30 L112.91 114.72 L113.21 114.13 L113.51 113.54 L113.81 112.95 L114.10 112.35 L114.38 111.74 L114.66 111.13 L114.94 110.52 L115.21 109.90 L115.47 109.28 L115.73 108.66 L115.99 108.03 L116.23 107.40 L116.48 106.76 L116.72 106.13 L116.95 105.49 L117.19 104.84 L117.41 104.20 L117.63 103.55 L117.85 102.90 L118.06 102.25 L118.27 101.60 L118.47 100.94 L118.67 100.28 L118.86 99.62 L119.06 98.96 L119.24 98.30 L119.42 97.64 L119.60 96.97 L119.77 96.31 L119.94 95.64 L120.11 94.98 L120.27 94.31 L120.43 93.64 L120.59 92.97 L120.74 92.30 L120.89 91.63 L121.03 90.96 L121.18 90.29 L121.32 89.62 L121.46 88.95 L121.60 88.28 L121.74 87.61 L121.87 86.94 L122.01 86.27 L122.14 85.60 L122.27 84.93 L122.40 84.26 L122.53 83.59 L122.66 82.92 L122.80 82.25 L122.93 81.58 L123.06 80.91 L123.19 80.25 L123.32 79.58 L123.45 78.91 L123.59 78.24 L123.72 77.58 L123.86 76.91 L124.00 76.25 L124.14 75.59 L124.28 74.92 L124.43 74.26 L124.58 73.60 L124.73 72.94 L124.88 72.28 L125.04 71.63 L125.20 70.97 L125.36 70.32 L125.53 69.66 L125.70 69.01 L125.87 68.36 L126.05 67.71 L126.24 67.06 L126.42 66.42 L126.62 65.77 L126.82 65.13 L127.02 64.49 L127.23 63.85 L127.44 63.21 L127.66 62.58 L127.89 61.95 L128.12 61.31 L128.36 60.69 L128.61 60.06 L128.86 59.43 L129.12 58.81 L129.39 58.19 L129.66 57.57 L129.94 56.96 L130.23 56.34 L130.53 55.73 L130.84 55.13 L131.15 54.52 L131.47 53.92 L131.81 53.32 L132.15 52.72 L132.50 52.13 L132.86 51.53 L133.23 50.94 L133.61 50.36 L133.99 49.78 L134.39 49.22 L134.80 48.67 L135.21 48.15 L135.62 47.66 L136.04 47.21 L136.47 46.80 L136.90 46.44 L137.33 46.13 L137.76 45.88 L138.20 45.70 L138.63 45.59 L139.06 45.56 L139.49 45.60 L139.92 45.72 L140.34 45.89 L140.75 46.14 L141.17 46.44 L141.57 46.80 L141.96 47.21 L142.35 47.68 L142.72 48.18 L143.09 48.74 L143.44 49.33 L143.77 49.96 L144.10 50.62 L144.40 51.31 L144.69 52.02 L144.97 52.76 L145.23 53.52 L145.47 54.30 L145.71 55.09 L145.93 55.89 L146.14 56.70 L146.33 57.51 L146.52 58.33 L146.70 59.14 L146.87 59.95 L147.03 60.75 L147.18 61.54 L147.33 62.32 L147.47 63.08 L147.61 63.83 L147.74 64.56 L147.87 65.28 L147.99 65.99 L148.11 66.68 L148.23 67.37 L148.34 68.04 L148.45 68.71 L148.56 69.36 L148.67 70.01 L148.77 70.65 L148.88 71.29 L148.99 71.92 L149.09 72.55 L149.20 73.17 L149.31 73.79 L149.42 74.41 L149.53 75.02 L149.64 75.64 L149.76 76.25 L149.88 76.87 L150.00 77.49 L150.13 78.11 L150.26 78.73 L150.39 79.36 L150.53 79.99 L150.67 80.61 L150.82 81.25 L150.96 81.88 L151.11 82.51 L151.26 83.15 L151.42 83.79 L151.58 84.43 L151.74 85.07 L151.90 85.71 L152.06 86.35 L152.22 86.99 L152.39 87.64 L152.56 88.28 L152.72 88.93 L152.89 89.58 L153.06 90.22 L153.24 90.87 L153.41 91.52 L153.58 92.16 L153.75 92.81 L153.92 93.46 L154.09 94.10 L154.27 94.75 L154.44 95.40 L154.61 96.04 L154.78 96.69 L154.95 97.33 L155.12 97.98 L155.29 98.63 L155.46 99.27 L155.62 99.91 L155.79 100.56 L155.96 101.20 L156.13 101.85 L156.29 102.49 L156.46 103.14 L156.62 103.78 L156.79 104.43 L156.95 105.07 L157.11 105.72 L157.27 106.36 L157.44 107.01 L157.60 107.66 L157.76 108.30 L157.92 108.95 L158.07 109.60 L158.23 110.24 L158.39 110.89 L158.55 111.54 L158.70 112.19 L158.86 112.84 L159.01 113.49 L159.16 114.14 L159.32 114.79 L159.47 115.44 L159.62 116.09 L159.77 116.74 L159.92 117.39 L160.07 118.04 L160.22 118.70 L160.37 119.35 L160.52 120.00 L160.67 120.66 L160.82 121.31 L160.97 121.96 L161.12 122.61 L161.27 123.27 L161.42 123.92 L161.57 124.58 L161.72 125.23 L161.87 125.88 L162.03 126.54 L162.18 127.19 L162.33 127.84 L162.48 128.50 L162.64 129.15 L162.79 129.80 L162.94 130.46 L163.10 131.11 L163.26 131.76 L163.41 132.41 L163.57 133.07 L163.73 133.72 L163.89 134.37 L164.05 135.02 L164.21 135.67 L164.37 136.32 L164.54 136.98 L164.70 137.63 L164.87 138.28 L165.04 138.92 L165.21 139.57 L165.38 140.22 L165.55 140.87 L165.72 141.52 L165.90 142.16 L166.08 142.81 L166.25 143.46 L166.44 144.10 L166.62 144.75 L166.80 145.39 L166.99 146.03 L167.18 146.68 L167.37 147.32 L167.56 147.96 L167.75 148.60 L167.95 149.24 L168.15 149.88 L168.35 150.52 L168.55 151.16 L168.76 151.79 L168.97 152.43 L169.18 153.07 L169.39 153.70 L169.61 154.33 L169.82 154.96 L170.04 155.60 L170.27 156.23 L170.49 156.86 L170.72 157.48 L170.96 158.11 L171.19 158.74 L171.43 159.36 L171.67 159.99 L171.92 160.61 L172.16 161.23 L172.41 161.85 L172.67 162.47 L172.93 163.09 L173.19 163.71 L173.45 164.32 L173.72 164.94 L173.99 165.55 L174.26 166.16 L174.54 166.77 L174.82 167.38 L175.11 167.99 L175.40 168.59 L175.69 169.20 L175.99 169.80 L176.29 170.40 L176.59 171.00 L176.90 171.60 L177.21 172.19 L177.52 172.79 L177.84 173.38 L178.16 173.97 L178.48 174.56 L178.81 175.14 L179.14 175.73 L179.48 176.31 L179.82 176.89 L180.16 177.47 L180.51 178.04 L180.86 178.61 L181.21 179.18 L181.57 179.75 L181.93 180.31 L182.29 180.88 L182.66 181.44 L183.03 181.99 L183.41 182.55 L183.79 183.10 L184.17 183.65 L184.55 184.19 L184.94 184.73 L185.34 185.27 L185.73 185.81 L186.13 186.34 L186.54 186.87 L186.94 187.40 L187.35 187.92 L187.77 188.45 L188.19 188.96 L188.61 189.48 L189.03 189.99 L189.46 190.49 L189.89 191.00 L190.33 191.49 L190.77 191.99 L191.21 192.48 L191.66 192.97 L192.11 193.45 L192.56 193.93 L193.02 194.41 L193.48 194.88 L193.94 195.35 L194.41 195.82 L194.88 196.28 L195.36 196.73 L195.84 197.18 L196.32 197.63 L196.80 198.07 L197.29 198.51 L197.79 198.95 L198.28 199.38 L198.78 199.80 L199.29 200.22 L199.79 200.64 L200.30 201.05 L200.82 201.45 L201.34 201.86 L201.86 202.25 L202.38 202.64 L202.91 203.03 L203.44 203.41 L203.98 203.79 L204.52 204.16 L205.06 204.53 L205.61 204.89 L206.16 205.24 L206.71 205.59 L207.27 205.94 L207.83 206.28 L208.39 206.61 L208.96 206.94 L209.53 207.26 L210.10 207.58 L210.68 207.89 L211.26 208.20 L211.85 208.50 L212.44 208.79 L213.03 209.08 L213.62 209.36 L214.22 209.64 L214.83 209.91 L215.43 210.17 L216.04 210.43 L216.66 210.68 L217.27 210.93 L217.89 211.17 L218.52 211.41 L219.14 211.64 L219.77 211.86 L220.40 212.08 L221.04 212.29 L221.67 212.50 L222.31 212.70 L222.96 212.90 L223.60 213.10 L224.25 213.29 L224.90 213.47 L225.55 213.65 L226.21 213.82 L226.86 213.99 L227.52 214.16 L228.18 214.32 L228.85 214.48 L229.51 214.63 L230.18 214.78 L230.85 214.93 L231.52 215.07 L232.19 215.21 L232.86 215.34 L233.54 215.47 L234.21 215.60 L234.89 215.72 L235.57 215.85 L236.25 215.96 L236.93 216.08 L237.61 216.19 L238.29 216.30 L238.97 216.40 L239.66 216.50 L240.34 216.60 L241.03 216.70 L241.71 216.80 L242.40 216.89 L243.08 216.98 L243.77 217.07 L244.46 217.15 L245.14 217.24 L245.83 217.32 L246.52 217.40 L247.20 217.48 L247.89 217.55 L248.58 217.63 L249.26 217.70 L249.95 217.77 L250.63 217.84 L251.32 217.91 L252.00 217.98 L252.69 218.05 L253.37 218.11 L254.05 218.18 L254.73 218.24 L255.41 218.31 L256.09 218.37 L256.77 218.43 L257.45 218.49 L258.12 218.55 L258.80 218.61 L259.47 218.68 L260.14 218.74 L260.81 218.80 L261.48 218.86 L262.15 218.92 L262.81 218.98 L263.47 219.04 L264.13 219.10 L264.79 219.17 L265.45 219.23 L266.10 219.29 L266.75 219.36 L267.40 219.42 L268.05 219.49 L268.70 219.56 L269.34 219.62 L269.98 219.69 L270.62 219.76 L271.25 219.84 L271.88 219.91 L272.51 219.99 L273.14 220.06 L273.76 220.14 L274.38 220.22 L274.99 220.30" stroke="#1eb6e3" stroke-width="2.8"/>
<path d="M40.51 133.40 L41.07 133.46 L41.64 133.53 L42.22 133.59 L42.80 133.67 L43.39 133.74 L43.98 133.82 L44.58 133.89 L45.19 133.97 L45.80 134.06 L46.42 134.14 L47.04 134.22 L47.67 134.31 L48.30 134.40 L48.94 134.49 L49.58 134.58 L50.23 134.67 L50.89 134.76 L51.54 134.85 L52.20 134.94 L52.87 135.03 L53.54 135.13 L54.21 135.22 L54.89 135.31 L55.57 135.40 L56.25 135.49 L56.93 135.58 L57.62 135.67 L58.31 135.76 L59.01 135.85 L59.71 135.93 L60.41 136.02 L61.11 136.10 L61.81 136.18 L62.51 136.26 L63.22 136.34 L63.93 136.41 L64.64 136.49 L65.35 136.56 L66.06 136.62 L66.78 136.69 L67.49 136.75 L68.20 136.81 L68.92 136.87 L69.63 136.92 L70.35 136.97 L71.06 137.01 L71.78 137.06 L72.49 137.09 L73.21 137.13 L73.92 137.16 L74.63 137.18 L75.34 137.20 L76.05 137.22 L76.76 137.23 L77.47 137.24 L78.18 137.24 L78.88 137.23 L79.58 137.22 L80.28 137.21 L80.98 137.19 L81.68 137.16 L82.37 137.13 L83.06 137.09 L83.75 137.04 L84.43 136.99 L85.11 136.93 L85.79 136.87 L86.47 136.80 L87.14 136.72 L87.81 136.63 L88.47 136.54 L89.13 136.44 L89.78 136.33 L90.43 136.22 L91.08 136.09 L91.72 135.96 L92.36 135.82 L92.99 135.67 L93.61 135.52 L94.24 135.35 L94.85 135.18 L95.46 134.99 L96.06 134.80 L96.66 134.60 L97.25 134.39 L97.84 134.17 L98.42 133.94 L98.99 133.70 L99.56 133.45 L100.12 133.19 L100.67 132.92 L101.21 132.64 L101.75 132.35 L102.28 132.05 L102.80 131.73 L103.31 131.41 L103.82 131.08 L104.32 130.73 L104.81 130.37 L105.29 130.00 L105.76 129.62 L106.22 129.23 L106.68 128.83 L107.12 128.41 L107.56 127.98 L107.99 127.55 L108.41 127.10 L108.82 126.64 L109.23 126.17 L109.62 125.69 L110.01 125.20 L110.39 124.70 L110.77 124.19 L111.13 123.67 L111.49 123.14 L111.84 122.60 L112.19 122.06 L112.52 121.51 L112.85 120.94 L113.18 120.38 L113.50 119.80 L113.81 119.22 L114.11 118.62 L114.41 118.03 L114.70 117.42 L114.99 116.81 L115.27 116.20 L115.55 115.58 L115.82 114.95 L116.08 114.31 L116.34 113.68 L116.59 113.03 L116.84 112.39 L117.09 111.74 L117.33 111.08 L117.56 110.42 L117.79 109.76 L118.02 109.09 L118.24 108.42 L118.46 107.75 L118.68 107.07 L118.89 106.40 L119.09 105.72 L119.30 105.03 L119.50 104.35 L119.69 103.67 L119.89 102.98 L120.08 102.29 L120.26 101.61 L120.45 100.92 L120.63 100.23 L120.81 99.54 L120.99 98.86 L121.16 98.17 L121.34 97.48 L121.51 96.80 L121.68 96.11 L121.85 95.43 L122.01 94.75 L122.18 94.07 L122.34 93.40 L122.50 92.72 L122.66 92.05 L122.82 91.38 L122.98 90.72 L123.14 90.06 L123.30 89.40 L123.45 88.75 L123.61 88.10 L123.77 87.45 L123.93 86.81 L124.08 86.18 L124.24 85.55 L124.40 84.92 L124.56 84.30 L124.71 83.69 L124.87 83.08 L125.03 82.47 L125.19 81.87 L125.35 81.27 L125.51 80.67 L125.67 80.08 L125.83 79.48 L125.99 78.89 L126.15 78.30 L126.31 77.71 L126.47 77.13 L126.63 76.54 L126.79 75.95 L126.95 75.36 L127.11 74.77 L127.27 74.18 L127.43 73.59 L127.59 72.99 L127.75 72.39 L127.91 71.79 L128.07 71.19 L128.23 70.58 L128.39 69.97 L128.54 69.35 L128.70 68.73 L128.86 68.10 L129.02 67.47 L129.17 66.83 L129.33 66.18 L129.48 65.53 L129.64 64.87 L129.79 64.20 L129.95 63.53 L130.10 62.84 L130.25 62.15 L130.41 61.45 L130.56 60.74 L130.71 60.02 L130.86 59.29 L131.01 58.55 L131.16 57.80 L131.31 57.05 L131.47 56.29 L131.63 55.54 L131.79 54.77 L131.96 54.01 L132.13 53.25 L132.30 52.49 L132.49 51.73 L132.67 50.98 L132.87 50.23 L133.08 49.49 L133.29 48.75 L133.51 48.03 L133.75 47.31 L133.99 46.61 L134.25 45.91 L134.51 45.24 L134.79 44.57 L135.09 43.93 L135.40 43.30 L135.72 42.69 L136.06 42.10 L136.41 41.53 L136.77 40.99 L137.15 40.49 L137.53 40.02 L137.92 39.59 L138.32 39.21 L138.72 38.88 L139.12 38.60 L139.52 38.39 L139.92 38.24 L140.32 38.15 L140.71 38.14 L141.10 38.21 L141.48 38.34 L141.86 38.54 L142.23 38.80 L142.59 39.11 L142.95 39.49 L143.30 39.91 L143.65 40.38 L143.99 40.90 L144.32 41.46 L144.65 42.05 L144.97 42.68 L145.28 43.34 L145.59 44.02 L145.90 44.73 L146.19 45.46 L146.48 46.20 L146.77 46.95 L147.04 47.71 L147.31 48.48 L147.58 49.25 L147.83 50.01 L148.09 50.77 L148.33 51.52 L148.57 52.27 L148.80 53.01 L149.02 53.74 L149.24 54.46 L149.46 55.18 L149.66 55.90 L149.87 56.61 L150.06 57.31 L150.26 58.01 L150.44 58.70 L150.63 59.39 L150.81 60.07 L150.98 60.75 L151.15 61.42 L151.32 62.09 L151.48 62.76 L151.64 63.43 L151.79 64.09 L151.94 64.74 L152.09 65.40 L152.24 66.05 L152.38 66.70 L152.52 67.34 L152.66 67.99 L152.80 68.63 L152.93 69.27 L153.07 69.91 L153.20 70.55 L153.33 71.19 L153.45 71.83 L153.58 72.46 L153.71 73.10 L153.83 73.74 L153.96 74.37 L154.08 75.01 L154.20 75.65 L154.33 76.28 L154.45 76.92 L154.57 77.56 L154.70 78.20 L154.82 78.85 L154.95 79.49 L155.08 80.14 L155.20 80.78 L155.33 81.43 L155.46 82.07 L155.59 82.72 L155.72 83.37 L155.85 84.02 L155.98 84.67 L156.11 85.32 L156.24 85.97 L156.38 86.62 L156.51 87.27 L156.65 87.92 L156.78 88.57 L156.92 89.22 L157.06 89.87 L157.20 90.52 L157.35 91.17 L157.49 91.82 L157.64 92.47 L157.79 93.12 L157.93 93.77 L158.08 94.41 L158.24 95.06 L158.39 95.71 L158.55 96.35 L158.70 97.00 L158.86 97.64 L159.02 98.28 L159.18 98.93 L159.34 99.57 L159.51 100.21 L159.67 100.85 L159.83 101.50 L160.00 102.14 L160.16 102.78 L160.33 103.42 L160.49 104.06 L160.66 104.70 L160.82 105.35 L160.98 105.99 L161.15 106.63 L161.31 107.27 L161.48 107.92 L161.64 108.56 L161.80 109.20 L161.96 109.85 L162.12 110.49 L162.28 111.14 L162.44 111.79 L162.60 112.43 L162.76 113.08 L162.91 113.73 L163.07 114.38 L163.22 115.03 L163.37 115.68 L163.53 116.33 L163.68 116.98 L163.83 117.63 L163.98 118.28 L164.13 118.94 L164.28 119.59 L164.43 120.24 L164.58 120.90 L164.73 121.55 L164.88 122.20 L165.03 122.86 L165.18 123.51 L165.32 124.17 L165.47 124.82 L165.62 125.48 L165.77 126.13 L165.92 126.79 L166.07 127.44 L166.22 128.10 L166.37 128.75 L166.52 129.41 L166.67 130.06 L166.83 130.72 L166.98 131.37 L167.13 132.02 L167.29 132.68 L167.44 133.33 L167.60 133.99 L167.76 134.64 L167.91 135.29 L168.07 135.95 L168.23 136.60 L168.39 137.25 L168.56 137.91 L168.72 138.56 L168.89 139.21 L169.05 139.86 L169.22 140.51 L169.39 141.16 L169.56 141.81 L169.73 142.46 L169.91 143.11 L170.09 143.75 L170.26 144.40 L170.44 145.05 L170.63 145.69 L170.81 146.34 L171.00 146.98 L171.18 147.63 L171.38 148.27 L171.57 148.91 L171.76 149.55 L171.96 150.19 L172.16 150.83 L172.36 151.47 L172.57 152.11 L172.77 152.74 L172.98 153.38 L173.20 154.01 L173.41 154.65 L173.63 155.28 L173.85 155.91 L174.07 156.54 L174.30 157.17 L174.53 157.80 L174.76 158.42 L175.00 159.05 L175.24 159.67 L175.48 160.29 L175.73 160.91 L175.98 161.53 L176.23 162.15 L176.49 162.77 L176.75 163.39 L177.01 164.00 L177.28 164.61 L177.55 165.22 L177.83 165.83 L178.10 166.44 L178.39 167.05 L178.67 167.65 L178.96 168.26 L179.26 168.86 L179.55 169.46 L179.86 170.05 L180.16 170.65 L180.47 171.24 L180.78 171.84 L181.10 172.42 L181.42 173.01 L181.75 173.60 L182.07 174.18 L182.41 174.76 L182.74 175.34 L183.08 175.91 L183.43 176.49 L183.77 177.06 L184.12 177.63 L184.48 178.19 L184.84 178.75 L185.20 179.31 L185.57 179.87 L185.94 180.43 L186.31 180.98 L186.69 181.52 L187.07 182.07 L187.45 182.61 L187.84 183.15 L188.24 183.69 L188.63 184.22 L189.03 184.75 L189.44 185.28 L189.85 185.80 L190.26 186.32 L190.67 186.83 L191.09 187.35 L191.52 187.86 L191.94 188.36 L192.37 188.86 L192.81 189.36 L193.25 189.85 L193.69 190.34 L194.13 190.83 L194.58 191.31 L195.04 191.79 L195.49 192.26 L195.96 192.73 L196.42 193.20 L196.89 193.66 L197.36 194.12 L197.84 194.57 L198.32 195.02 L198.80 195.46 L199.29 195.90 L199.78 196.34 L200.28 196.77 L200.77 197.19 L201.28 197.61 L201.78 198.03 L202.29 198.44 L202.81 198.85 L203.33 199.25 L203.85 199.64 L204.37 200.04 L204.90 200.42 L205.43 200.80 L205.97 201.18 L206.51 201.55 L207.06 201.92 L207.60 202.28 L208.16 202.63 L208.71 202.98 L209.27 203.32 L209.83 203.66 L210.40 203.99 L210.97 204.32 L211.54 204.64 L212.12 204.96 L212.70 205.27 L213.29 205.57 L213.88 205.87 L214.47 206.16 L215.07 206.45 L215.67 206.73 L216.27 207.00 L216.88 207.27 L217.49 207.53 L218.11 207.79 L218.72 208.04 L219.34 208.29 L219.97 208.53 L220.59 208.77 L221.22 209.00 L221.85 209.23 L222.49 209.45 L223.13 209.67 L223.77 209.88 L224.41 210.09 L225.05 210.29 L225.70 210.49 L226.35 210.68 L227.00 210.87 L227.66 211.05 L228.31 211.23 L228.97 211.41 L229.63 211.58 L230.29 211.75 L230.96 211.91 L231.62 212.07 L232.29 212.23 L232.96 212.38 L233.63 212.53 L234.30 212.68 L234.97 212.82 L235.65 212.96 L236.32 213.09 L237.00 213.22 L237.68 213.35 L238.35 213.47 L239.03 213.60 L239.71 213.72 L240.39 213.83 L241.08 213.94 L241.76 214.05 L242.44 214.16 L243.12 214.27 L243.81 214.37 L244.49 214.47 L245.18 214.56 L245.86 214.66 L246.54 214.75 L247.23 214.84 L247.91 214.93 L248.60 215.02 L249.28 215.10 L249.96 215.18 L250.65 215.26 L251.33 215.34 L252.01 215.42 L252.70 215.49 L253.38 215.57 L254.06 215.64 L254.74 215.71 L255.41 215.78 L256.09 215.85 L256.77 215.91 L257.44 215.98 L258.12 216.04 L258.79 216.11 L259.46 216.17 L260.13 216.23 L260.80 216.29 L261.47 216.35 L262.14 216.41 L262.80 216.47 L263.46 216.53 L264.12 216.59 L264.78 216.65 L265.44 216.71 L266.09 216.77 L266.74 216.82 L267.39 216.88 L268.04 216.94 L268.69 217.00 L269.33 217.06 L269.97 217.11 L270.61 217.17 L271.24 217.23 L271.88 217.29 L272.50 217.35 L273.13 217.41 L273.76 217.48 L274.38 217.54 L274.99 217.60" stroke="#6bba47" stroke-width="2.8"/>
<path d="M40.51 125.40 L41.08 125.50 L41.65 125.61 L42.23 125.72 L42.82 125.84 L43.41 125.95 L44.01 126.07 L44.61 126.19 L45.22 126.32 L45.84 126.44 L46.46 126.57 L47.08 126.70 L47.71 126.83 L48.35 126.96 L48.99 127.10 L49.63 127.23 L50.28 127.37 L50.93 127.50 L51.59 127.64 L52.25 127.78 L52.91 127.91 L53.58 128.05 L54.25 128.19 L54.93 128.33 L55.60 128.46 L56.28 128.60 L56.97 128.74 L57.65 128.87 L58.34 129.01 L59.03 129.14 L59.73 129.28 L60.42 129.41 L61.12 129.54 L61.82 129.67 L62.52 129.79 L63.22 129.92 L63.92 130.04 L64.63 130.16 L65.33 130.28 L66.04 130.39 L66.75 130.51 L67.46 130.62 L68.16 130.72 L68.87 130.83 L69.58 130.93 L70.29 131.03 L71.00 131.12 L71.71 131.21 L72.42 131.30 L73.13 131.38 L73.83 131.46 L74.54 131.53 L75.25 131.60 L75.95 131.66 L76.65 131.72 L77.36 131.78 L78.06 131.83 L78.75 131.87 L79.45 131.91 L80.15 131.94 L80.84 131.97 L81.53 131.99 L82.22 132.01 L82.90 132.02 L83.59 132.02 L84.27 132.02 L84.94 132.01 L85.62 132.00 L86.29 131.97 L86.95 131.94 L87.62 131.91 L88.28 131.86 L88.93 131.81 L89.59 131.75 L90.23 131.68 L90.88 131.61 L91.52 131.53 L92.15 131.43 L92.78 131.33 L93.40 131.23 L94.02 131.11 L94.64 130.98 L95.25 130.85 L95.85 130.70 L96.45 130.55 L97.04 130.39 L97.63 130.22 L98.21 130.03 L98.78 129.84 L99.35 129.64 L99.91 129.43 L100.47 129.20 L101.01 128.97 L101.55 128.73 L102.09 128.47 L102.61 128.21 L103.13 127.93 L103.64 127.64 L104.15 127.34 L104.64 127.03 L105.13 126.71 L105.61 126.38 L106.08 126.03 L106.55 125.67 L107.00 125.30 L107.45 124.92 L107.89 124.52 L108.32 124.11 L108.73 123.69 L109.15 123.26 L109.55 122.82 L109.94 122.36 L110.33 121.89 L110.71 121.41 L111.08 120.92 L111.44 120.42 L111.79 119.91 L112.14 119.39 L112.48 118.86 L112.81 118.33 L113.14 117.78 L113.46 117.22 L113.77 116.65 L114.08 116.08 L114.37 115.50 L114.67 114.91 L114.95 114.31 L115.23 113.70 L115.50 113.09 L115.77 112.47 L116.03 111.84 L116.29 111.21 L116.54 110.57 L116.79 109.92 L117.03 109.27 L117.26 108.62 L117.49 107.96 L117.72 107.29 L117.94 106.62 L118.15 105.95 L118.36 105.27 L118.57 104.58 L118.77 103.90 L118.97 103.21 L119.17 102.52 L119.36 101.82 L119.55 101.12 L119.73 100.42 L119.91 99.72 L120.09 99.02 L120.26 98.31 L120.44 97.60 L120.60 96.90 L120.77 96.19 L120.93 95.48 L121.10 94.77 L121.25 94.06 L121.41 93.35 L121.57 92.64 L121.72 91.94 L121.87 91.23 L122.02 90.53 L122.17 89.82 L122.32 89.12 L122.46 88.42 L122.61 87.72 L122.75 87.03 L122.89 86.34 L123.03 85.65 L123.18 84.97 L123.32 84.28 L123.46 83.61 L123.60 82.93 L123.74 82.26 L123.88 81.60 L124.02 80.93 L124.16 80.27 L124.30 79.61 L124.44 78.96 L124.58 78.31 L124.72 77.66 L124.86 77.02 L125.00 76.37 L125.14 75.73 L125.29 75.09 L125.43 74.46 L125.57 73.82 L125.71 73.19 L125.85 72.56 L126.00 71.93 L126.14 71.30 L126.29 70.68 L126.43 70.05 L126.58 69.43 L126.72 68.81 L126.87 68.19 L127.02 67.57 L127.17 66.95 L127.32 66.33 L127.47 65.71 L127.62 65.09 L127.77 64.47 L127.92 63.86 L128.08 63.24 L128.23 62.62 L128.39 62.01 L128.55 61.39 L128.71 60.77 L128.87 60.15 L129.03 59.54 L129.19 58.92 L129.36 58.30 L129.52 57.68 L129.69 57.05 L129.86 56.43 L130.03 55.81 L130.20 55.18 L130.38 54.55 L130.55 53.93 L130.73 53.30 L130.91 52.66 L131.09 52.03 L131.27 51.39 L131.46 50.75 L131.64 50.11 L131.83 49.47 L132.02 48.83 L132.22 48.18 L132.41 47.53 L132.61 46.87 L132.81 46.22 L133.01 45.56 L133.22 44.89 L133.42 44.23 L133.63 43.56 L133.84 42.88 L134.06 42.21 L134.27 41.53 L134.49 40.84 L134.71 40.15 L134.94 39.46 L135.16 38.76 L135.39 38.06 L135.63 37.36 L135.86 36.65 L136.10 35.93 L136.34 35.21 L136.58 34.49 L136.83 33.76 L137.08 33.02 L137.33 32.29 L137.59 31.55 L137.85 30.82 L138.12 30.09 L138.39 29.38 L138.66 28.68 L138.94 28.00 L139.22 27.34 L139.52 26.71 L139.81 26.10 L140.12 25.53 L140.43 25.00 L140.75 24.50 L141.07 24.05 L141.41 23.65 L141.75 23.29 L142.10 22.99 L142.46 22.75 L142.83 22.57 L143.20 22.46 L143.59 22.41 L143.99 22.44 L144.40 22.53 L144.81 22.69 L145.23 22.91 L145.66 23.19 L146.08 23.53 L146.51 23.92 L146.94 24.35 L147.37 24.83 L147.79 25.36 L148.21 25.92 L148.62 26.52 L149.03 27.15 L149.42 27.81 L149.81 28.49 L150.18 29.19 L150.54 29.92 L150.90 30.66 L151.24 31.41 L151.57 32.17 L151.89 32.93 L152.19 33.70 L152.49 34.47 L152.77 35.23 L153.05 35.99 L153.31 36.74 L153.56 37.48 L153.80 38.21 L154.02 38.94 L154.24 39.65 L154.45 40.36 L154.65 41.07 L154.84 41.76 L155.02 42.45 L155.20 43.14 L155.36 43.82 L155.52 44.49 L155.67 45.16 L155.82 45.82 L155.96 46.48 L156.09 47.13 L156.22 47.78 L156.34 48.43 L156.46 49.07 L156.57 49.71 L156.68 50.35 L156.78 50.98 L156.89 51.61 L156.99 52.24 L157.08 52.87 L157.18 53.49 L157.27 54.12 L157.37 54.74 L157.46 55.36 L157.55 55.98 L157.64 56.60 L157.73 57.22 L157.82 57.84 L157.92 58.47 L158.01 59.09 L158.11 59.71 L158.21 60.33 L158.31 60.96 L158.41 61.59 L158.52 62.21 L158.63 62.84 L158.74 63.48 L158.85 64.11 L158.97 64.74 L159.08 65.38 L159.20 66.01 L159.32 66.65 L159.44 67.29 L159.57 67.93 L159.69 68.57 L159.82 69.21 L159.95 69.85 L160.08 70.49 L160.21 71.14 L160.34 71.78 L160.47 72.43 L160.61 73.08 L160.74 73.72 L160.88 74.37 L161.02 75.02 L161.15 75.67 L161.29 76.32 L161.43 76.97 L161.57 77.62 L161.71 78.27 L161.84 78.93 L161.98 79.58 L162.12 80.23 L162.26 80.89 L162.41 81.54 L162.55 82.20 L162.69 82.85 L162.83 83.51 L162.97 84.16 L163.11 84.82 L163.26 85.47 L163.40 86.13 L163.54 86.78 L163.69 87.44 L163.83 88.10 L163.98 88.76 L164.12 89.41 L164.27 90.07 L164.41 90.73 L164.56 91.38 L164.71 92.04 L164.85 92.70 L165.00 93.36 L165.15 94.01 L165.30 94.67 L165.44 95.33 L165.59 95.98 L165.74 96.64 L165.89 97.30 L166.04 97.95 L166.19 98.61 L166.34 99.27 L166.49 99.92 L166.64 100.58 L166.79 101.23 L166.95 101.89 L167.10 102.54 L167.25 103.20 L167.41 103.85 L167.56 104.51 L167.71 105.16 L167.87 105.81 L168.02 106.47 L168.18 107.12 L168.34 107.77 L168.49 108.42 L168.65 109.08 L168.81 109.73 L168.97 110.38 L169.13 111.03 L169.29 111.68 L169.45 112.33 L169.62 112.98 L169.78 113.62 L169.94 114.27 L170.11 114.92 L170.28 115.57 L170.44 116.22 L170.61 116.86 L170.78 117.51 L170.95 118.15 L171.13 118.80 L171.30 119.44 L171.47 120.09 L171.65 120.73 L171.82 121.37 L172.00 122.02 L172.18 122.66 L172.36 123.30 L172.54 123.94 L172.73 124.58 L172.91 125.22 L173.10 125.86 L173.29 126.50 L173.47 127.14 L173.66 127.78 L173.86 128.41 L174.05 129.05 L174.25 129.68 L174.44 130.32 L174.64 130.95 L174.84 131.59 L175.04 132.22 L175.25 132.85 L175.45 133.49 L175.66 134.12 L175.87 134.75 L176.08 135.38 L176.29 136.01 L176.51 136.64 L176.72 137.26 L176.94 137.89 L177.16 138.52 L177.38 139.14 L177.61 139.77 L177.83 140.39 L178.06 141.02 L178.29 141.64 L178.53 142.26 L178.76 142.88 L179.00 143.50 L179.24 144.12 L179.48 144.74 L179.72 145.36 L179.97 145.98 L180.22 146.59 L180.47 147.21 L180.72 147.82 L180.98 148.44 L181.24 149.05 L181.50 149.66 L181.76 150.27 L182.03 150.88 L182.30 151.49 L182.57 152.10 L182.84 152.71 L183.12 153.32 L183.40 153.92 L183.68 154.53 L183.96 155.13 L184.25 155.74 L184.54 156.34 L184.83 156.94 L185.13 157.54 L185.43 158.14 L185.73 158.74 L186.03 159.34 L186.34 159.93 L186.65 160.53 L186.96 161.12 L187.28 161.72 L187.60 162.31 L187.92 162.90 L188.24 163.49 L188.57 164.08 L188.90 164.67 L189.24 165.25 L189.58 165.84 L189.92 166.42 L190.26 167.00 L190.61 167.58 L190.96 168.16 L191.31 168.73 L191.67 169.31 L192.03 169.88 L192.39 170.45 L192.75 171.02 L193.12 171.58 L193.49 172.15 L193.87 172.71 L194.25 173.27 L194.63 173.82 L195.01 174.38 L195.40 174.93 L195.79 175.48 L196.19 176.02 L196.58 176.57 L196.98 177.11 L197.39 177.65 L197.79 178.18 L198.20 178.71 L198.62 179.24 L199.04 179.77 L199.46 180.29 L199.88 180.81 L200.31 181.33 L200.74 181.84 L201.17 182.35 L201.61 182.86 L202.05 183.36 L202.49 183.86 L202.94 184.36 L203.39 184.85 L203.84 185.34 L204.30 185.82 L204.76 186.31 L205.22 186.78 L205.69 187.26 L206.16 187.73 L206.63 188.19 L207.11 188.65 L207.59 189.11 L208.07 189.56 L208.56 190.01 L209.05 190.45 L209.55 190.89 L210.04 191.33 L210.54 191.76 L211.05 192.18 L211.56 192.60 L212.07 193.02 L212.59 193.43 L213.10 193.84 L213.63 194.24 L214.15 194.63 L214.68 195.02 L215.22 195.41 L215.75 195.79 L216.29 196.17 L216.84 196.54 L217.38 196.90 L217.93 197.26 L218.49 197.62 L219.05 197.96 L219.61 198.31 L220.17 198.64 L220.74 198.98 L221.32 199.30 L221.89 199.62 L222.47 199.94 L223.06 200.24 L223.64 200.54 L224.23 200.84 L224.83 201.13 L225.43 201.42 L226.03 201.70 L226.63 201.97 L227.24 202.24 L227.85 202.50 L228.46 202.76 L229.08 203.01 L229.70 203.26 L230.32 203.50 L230.94 203.74 L231.57 203.97 L232.20 204.20 L232.83 204.42 L233.46 204.64 L234.10 204.86 L234.74 205.07 L235.38 205.27 L236.02 205.47 L236.66 205.67 L237.31 205.86 L237.96 206.05 L238.61 206.23 L239.26 206.41 L239.92 206.58 L240.57 206.75 L241.23 206.92 L241.89 207.09 L242.55 207.25 L243.21 207.40 L243.87 207.55 L244.53 207.70 L245.20 207.85 L245.86 207.99 L246.53 208.13 L247.19 208.27 L247.86 208.40 L248.53 208.53 L249.20 208.66 L249.87 208.78 L250.54 208.90 L251.21 209.02 L251.88 209.13 L252.55 209.25 L253.22 209.36 L253.89 209.47 L254.56 209.57 L255.24 209.67 L255.91 209.77 L256.58 209.87 L257.25 209.97 L257.92 210.06 L258.59 210.15 L259.26 210.24 L259.93 210.33 L260.60 210.42 L261.26 210.50 L261.93 210.59 L262.60 210.67 L263.26 210.75 L263.93 210.82 L264.59 210.90 L265.25 210.98 L265.91 211.05 L266.57 211.12 L267.23 211.20 L267.89 211.27 L268.54 211.34 L269.20 211.41 L269.85 211.47 L270.50 211.54 L271.15 211.61 L271.79 211.68 L272.44 211.74 L273.08 211.81 L273.72 211.87 L274.36 211.94 L275.00 212.00" stroke="#b49ecf" stroke-width="3.0"/>
<path d="M40.51 130.40 L41.05 130.37 L41.61 130.34 L42.17 130.32 L42.74 130.30 L43.31 130.30 L43.89 130.30 L44.48 130.31 L45.07 130.33 L45.67 130.35 L46.28 130.38 L46.89 130.42 L47.51 130.46 L48.14 130.51 L48.77 130.57 L49.40 130.63 L50.04 130.69 L50.69 130.76 L51.34 130.84 L51.99 130.92 L52.65 131.01 L53.31 131.10 L53.98 131.19 L54.65 131.29 L55.33 131.39 L56.01 131.49 L56.69 131.60 L57.38 131.71 L58.07 131.82 L58.76 131.93 L59.46 132.05 L60.16 132.17 L60.86 132.29 L61.57 132.42 L62.27 132.54 L62.98 132.66 L63.70 132.79 L64.41 132.92 L65.12 133.05 L65.84 133.17 L66.56 133.30 L67.28 133.43 L68.00 133.55 L68.72 133.68 L69.45 133.81 L70.17 133.93 L70.89 134.05 L71.62 134.17 L72.34 134.29 L73.07 134.41 L73.79 134.53 L74.52 134.64 L75.24 134.75 L75.97 134.86 L76.69 134.96 L77.41 135.06 L78.13 135.16 L78.85 135.26 L79.57 135.35 L80.29 135.43 L81.01 135.51 L81.72 135.59 L82.43 135.66 L83.14 135.73 L83.85 135.79 L84.56 135.85 L85.26 135.90 L85.96 135.94 L86.66 135.98 L87.35 136.01 L88.05 136.03 L88.74 136.05 L89.42 136.06 L90.10 136.07 L90.78 136.06 L91.45 136.05 L92.12 136.03 L92.79 136.01 L93.45 135.97 L94.11 135.92 L94.76 135.87 L95.41 135.81 L96.05 135.74 L96.69 135.65 L97.32 135.56 L97.95 135.46 L98.57 135.35 L99.18 135.23 L99.79 135.10 L100.39 134.95 L100.99 134.80 L101.58 134.63 L102.17 134.46 L102.75 134.27 L103.32 134.07 L103.88 133.86 L104.44 133.63 L104.99 133.39 L105.53 133.14 L106.06 132.88 L106.59 132.60 L107.11 132.31 L107.62 132.01 L108.12 131.69 L108.62 131.36 L109.10 131.01 L109.58 130.65 L110.05 130.28 L110.51 129.89 L110.97 129.50 L111.42 129.09 L111.86 128.67 L112.29 128.23 L112.72 127.79 L113.13 127.33 L113.55 126.87 L113.95 126.39 L114.35 125.90 L114.74 125.41 L115.12 124.90 L115.50 124.38 L115.87 123.86 L116.24 123.32 L116.60 122.78 L116.95 122.23 L117.29 121.67 L117.63 121.10 L117.97 120.52 L118.30 119.94 L118.62 119.35 L118.94 118.75 L119.25 118.15 L119.56 117.54 L119.86 116.93 L120.16 116.31 L120.45 115.68 L120.74 115.05 L121.02 114.41 L121.30 113.77 L121.57 113.12 L121.84 112.48 L122.10 111.82 L122.36 111.17 L122.62 110.51 L122.87 109.84 L123.12 109.18 L123.36 108.51 L123.60 107.84 L123.84 107.17 L124.07 106.49 L124.30 105.82 L124.53 105.14 L124.75 104.47 L124.97 103.79 L125.19 103.11 L125.40 102.43 L125.61 101.76 L125.82 101.08 L126.02 100.40 L126.23 99.73 L126.43 99.06 L126.63 98.38 L126.82 97.71 L127.01 97.05 L127.21 96.38 L127.40 95.72 L127.58 95.06 L127.77 94.40 L127.96 93.75 L128.14 93.10 L128.32 92.45 L128.50 91.81 L128.68 91.17 L128.86 90.53 L129.03 89.89 L129.21 89.26 L129.38 88.62 L129.55 87.99 L129.72 87.36 L129.89 86.74 L130.06 86.11 L130.23 85.49 L130.40 84.87 L130.56 84.25 L130.73 83.63 L130.89 83.02 L131.06 82.40 L131.22 81.79 L131.38 81.18 L131.54 80.56 L131.71 79.95 L131.87 79.34 L132.03 78.73 L132.19 78.12 L132.35 77.52 L132.51 76.91 L132.67 76.30 L132.83 75.69 L132.99 75.09 L133.15 74.48 L133.31 73.87 L133.47 73.27 L133.63 72.66 L133.79 72.05 L133.95 71.44 L134.11 70.83 L134.27 70.22 L134.43 69.61 L134.60 69.00 L134.76 68.39 L134.92 67.78 L135.09 67.17 L135.25 66.55 L135.42 65.94 L135.58 65.32 L135.75 64.70 L135.92 64.08 L136.09 63.46 L136.26 62.83 L136.43 62.21 L136.60 61.58 L136.78 60.95 L136.95 60.32 L137.13 59.68 L137.31 59.05 L137.49 58.41 L137.67 57.76 L137.85 57.12 L138.04 56.47 L138.22 55.82 L138.41 55.17 L138.60 54.52 L138.79 53.86 L138.98 53.19 L139.18 52.53 L139.37 51.86 L139.57 51.19 L139.77 50.51 L139.98 49.83 L140.18 49.15 L140.39 48.46 L140.60 47.77 L140.81 47.08 L141.03 46.38 L141.24 45.67 L141.46 44.97 L141.68 44.25 L141.91 43.54 L142.14 42.82 L142.37 42.09 L142.60 41.36 L142.84 40.62 L143.07 39.88 L143.32 39.14 L143.56 38.39 L143.81 37.65 L144.07 36.90 L144.33 36.16 L144.59 35.43 L144.86 34.69 L145.14 33.97 L145.43 33.26 L145.72 32.56 L146.02 31.87 L146.33 31.19 L146.64 30.53 L146.97 29.89 L147.31 29.27 L147.65 28.67 L148.01 28.09 L148.37 27.54 L148.75 27.01 L149.14 26.51 L149.54 26.03 L149.95 25.59 L150.38 25.18 L150.82 24.80 L151.28 24.46 L151.74 24.16 L152.22 23.89 L152.70 23.66 L153.19 23.47 L153.69 23.32 L154.19 23.22 L154.69 23.15 L155.20 23.13 L155.70 23.16 L156.20 23.23 L156.69 23.34 L157.18 23.51 L157.66 23.72 L158.13 23.99 L158.59 24.30 L159.05 24.66 L159.49 25.07 L159.92 25.51 L160.34 26.00 L160.75 26.52 L161.15 27.08 L161.55 27.66 L161.93 28.28 L162.30 28.92 L162.67 29.58 L163.03 30.26 L163.37 30.97 L163.71 31.68 L164.04 32.41 L164.36 33.15 L164.68 33.90 L164.98 34.65 L165.28 35.41 L165.57 36.16 L165.85 36.91 L166.12 37.66 L166.39 38.39 L166.64 39.12 L166.89 39.83 L167.14 40.53 L167.37 41.22 L167.60 41.90 L167.83 42.56 L168.05 43.22 L168.26 43.87 L168.48 44.51 L168.69 45.14 L168.89 45.77 L169.10 46.39 L169.30 47.02 L169.50 47.63 L169.71 48.25 L169.91 48.87 L170.11 49.48 L170.32 50.10 L170.52 50.72 L170.73 51.33 L170.94 51.95 L171.14 52.57 L171.35 53.19 L171.56 53.81 L171.77 54.42 L171.98 55.04 L172.19 55.66 L172.40 56.28 L172.61 56.90 L172.82 57.52 L173.03 58.14 L173.24 58.76 L173.45 59.39 L173.66 60.01 L173.87 60.63 L174.09 61.25 L174.30 61.88 L174.51 62.50 L174.72 63.12 L174.93 63.75 L175.14 64.37 L175.36 65.00 L175.57 65.62 L175.78 66.25 L175.99 66.87 L176.20 67.50 L176.41 68.13 L176.62 68.75 L176.83 69.38 L177.04 70.01 L177.25 70.64 L177.46 71.27 L177.66 71.90 L177.87 72.53 L178.08 73.16 L178.28 73.79 L178.49 74.42 L178.69 75.06 L178.90 75.69 L179.10 76.32 L179.30 76.96 L179.50 77.59 L179.71 78.23 L179.91 78.86 L180.11 79.50 L180.31 80.13 L180.51 80.77 L180.71 81.41 L180.91 82.04 L181.10 82.68 L181.30 83.32 L181.50 83.96 L181.70 84.60 L181.90 85.23 L182.09 85.87 L182.29 86.51 L182.49 87.15 L182.69 87.79 L182.88 88.43 L183.08 89.07 L183.28 89.71 L183.48 90.35 L183.67 90.99 L183.87 91.63 L184.07 92.27 L184.27 92.91 L184.46 93.55 L184.66 94.19 L184.86 94.83 L185.06 95.47 L185.26 96.12 L185.46 96.76 L185.66 97.40 L185.86 98.04 L186.06 98.68 L186.26 99.32 L186.46 99.96 L186.66 100.60 L186.87 101.24 L187.07 101.88 L187.27 102.52 L187.48 103.16 L187.68 103.80 L187.89 104.43 L188.09 105.07 L188.30 105.71 L188.51 106.35 L188.72 106.99 L188.93 107.63 L189.14 108.26 L189.35 108.90 L189.56 109.54 L189.78 110.17 L189.99 110.81 L190.21 111.44 L190.42 112.08 L190.64 112.71 L190.86 113.35 L191.08 113.98 L191.30 114.61 L191.52 115.25 L191.74 115.88 L191.97 116.51 L192.20 117.14 L192.42 117.77 L192.65 118.40 L192.88 119.03 L193.11 119.66 L193.35 120.29 L193.58 120.92 L193.82 121.54 L194.05 122.17 L194.29 122.80 L194.53 123.42 L194.77 124.04 L195.02 124.67 L195.26 125.29 L195.51 125.91 L195.76 126.53 L196.01 127.15 L196.26 127.77 L196.52 128.39 L196.77 129.01 L197.03 129.63 L197.29 130.24 L197.55 130.86 L197.82 131.47 L198.08 132.09 L198.35 132.70 L198.62 133.31 L198.89 133.92 L199.17 134.53 L199.44 135.14 L199.72 135.75 L200.00 136.35 L200.29 136.96 L200.57 137.56 L200.86 138.17 L201.15 138.77 L201.44 139.37 L201.73 139.97 L202.03 140.57 L202.33 141.17 L202.63 141.76 L202.94 142.36 L203.25 142.95 L203.55 143.54 L203.87 144.13 L204.18 144.73 L204.50 145.31 L204.82 145.90 L205.14 146.49 L205.47 147.07 L205.79 147.66 L206.12 148.24 L206.46 148.82 L206.79 149.40 L207.13 149.98 L207.47 150.55 L207.81 151.13 L208.16 151.70 L208.51 152.27 L208.86 152.84 L209.21 153.41 L209.57 153.97 L209.93 154.54 L210.29 155.10 L210.65 155.66 L211.02 156.22 L211.39 156.78 L211.76 157.34 L212.13 157.89 L212.51 158.44 L212.89 158.99 L213.27 159.54 L213.66 160.09 L214.04 160.63 L214.43 161.17 L214.83 161.71 L215.22 162.25 L215.62 162.79 L216.02 163.32 L216.42 163.85 L216.82 164.38 L217.23 164.91 L217.64 165.43 L218.06 165.96 L218.47 166.48 L218.89 167.00 L219.31 167.51 L219.73 168.03 L220.16 168.54 L220.59 169.05 L221.02 169.55 L221.45 170.06 L221.89 170.56 L222.32 171.06 L222.77 171.55 L223.21 172.05 L223.66 172.54 L224.10 173.03 L224.56 173.51 L225.01 174.00 L225.47 174.48 L225.93 174.96 L226.39 175.43 L226.85 175.90 L227.32 176.37 L227.79 176.84 L228.26 177.31 L228.73 177.77 L229.21 178.23 L229.69 178.68 L230.17 179.13 L230.66 179.58 L231.15 180.03 L231.64 180.47 L232.13 180.92 L232.62 181.35 L233.12 181.79 L233.62 182.22 L234.12 182.65 L234.63 183.07 L235.14 183.49 L235.65 183.91 L236.16 184.33 L236.68 184.74 L237.19 185.15 L237.72 185.56 L238.24 185.96 L238.77 186.36 L239.29 186.75 L239.82 187.15 L240.36 187.54 L240.89 187.92 L241.43 188.30 L241.97 188.68 L242.52 189.06 L243.06 189.43 L243.61 189.79 L244.17 190.16 L244.72 190.52 L245.28 190.88 L245.84 191.23 L246.40 191.58 L246.96 191.92 L247.53 192.27 L248.10 192.60 L248.67 192.94 L249.25 193.27 L249.82 193.60 L250.40 193.92 L250.98 194.24 L251.57 194.55 L252.16 194.86 L252.75 195.17 L253.34 195.47 L253.93 195.77 L254.53 196.07 L255.13 196.36 L255.74 196.64 L256.34 196.92 L256.95 197.20 L257.56 197.48 L258.17 197.75 L258.79 198.01 L259.41 198.27 L260.03 198.53 L260.65 198.78 L261.28 199.03 L261.90 199.27 L262.54 199.51 L263.17 199.75 L263.81 199.98 L264.44 200.21 L265.09 200.43 L265.73 200.64 L266.38 200.86 L267.02 201.07 L267.68 201.27 L268.33 201.47 L268.99 201.66 L269.65 201.85 L270.31 202.04 L270.97 202.22 L271.64 202.39 L272.31 202.56 L272.98 202.73 L273.65 202.89 L274.33 203.04 L275.01 203.19" stroke="#fcb61f" stroke-width="3.0"/>
<path d="M40.50 141.61 L41.14 141.49 L41.77 141.38 L42.41 141.28 L43.05 141.19 L43.69 141.11 L44.33 141.04 L44.98 140.98 L45.63 140.93 L46.28 140.89 L46.93 140.86 L47.59 140.83 L48.24 140.82 L48.90 140.81 L49.56 140.81 L50.22 140.82 L50.89 140.84 L51.55 140.86 L52.22 140.89 L52.89 140.93 L53.56 140.97 L54.23 141.02 L54.90 141.08 L55.57 141.14 L56.25 141.20 L56.92 141.27 L57.60 141.35 L58.27 141.43 L58.95 141.51 L59.63 141.60 L60.31 141.69 L60.99 141.78 L61.68 141.88 L62.36 141.98 L63.04 142.08 L63.73 142.19 L64.41 142.29 L65.10 142.40 L65.78 142.51 L66.47 142.63 L67.15 142.74 L67.84 142.85 L68.52 142.96 L69.21 143.08 L69.90 143.19 L70.58 143.30 L71.27 143.42 L71.96 143.53 L72.64 143.64 L73.33 143.74 L74.01 143.85 L74.70 143.96 L75.39 144.06 L76.07 144.16 L76.75 144.26 L77.44 144.35 L78.12 144.44 L78.80 144.53 L79.49 144.61 L80.17 144.69 L80.85 144.76 L81.53 144.83 L82.20 144.90 L82.88 144.96 L83.56 145.01 L84.23 145.06 L84.91 145.10 L85.58 145.14 L86.25 145.17 L86.92 145.19 L87.59 145.20 L88.26 145.21 L88.92 145.21 L89.59 145.20 L90.25 145.19 L90.91 145.16 L91.57 145.13 L92.23 145.09 L92.89 145.04 L93.54 144.98 L94.19 144.91 L94.84 144.83 L95.49 144.74 L96.13 144.64 L96.78 144.53 L97.42 144.42 L98.05 144.29 L98.69 144.15 L99.32 144.01 L99.94 143.86 L100.57 143.69 L101.18 143.52 L101.80 143.34 L102.41 143.15 L103.02 142.95 L103.62 142.74 L104.22 142.52 L104.82 142.29 L105.41 142.05 L105.99 141.81 L106.57 141.55 L107.15 141.28 L107.72 141.01 L108.28 140.72 L108.84 140.43 L109.40 140.13 L109.94 139.82 L110.49 139.49 L111.02 139.16 L111.55 138.82 L112.07 138.47 L112.59 138.11 L113.10 137.75 L113.60 137.37 L114.10 136.98 L114.59 136.59 L115.07 136.18 L115.55 135.77 L116.02 135.34 L116.47 134.91 L116.93 134.47 L117.37 134.01 L117.81 133.55 L118.24 133.08 L118.65 132.60 L119.07 132.11 L119.47 131.62 L119.87 131.11 L120.26 130.59 L120.64 130.07 L121.01 129.54 L121.38 129.00 L121.74 128.46 L122.09 127.91 L122.44 127.35 L122.78 126.78 L123.12 126.21 L123.45 125.63 L123.77 125.04 L124.09 124.45 L124.41 123.85 L124.71 123.25 L125.02 122.64 L125.32 122.03 L125.61 121.42 L125.90 120.79 L126.19 120.17 L126.47 119.54 L126.74 118.90 L127.02 118.27 L127.29 117.63 L127.56 116.98 L127.82 116.34 L128.08 115.69 L128.34 115.03 L128.59 114.38 L128.85 113.72 L129.10 113.07 L129.35 112.41 L129.59 111.74 L129.84 111.08 L130.08 110.42 L130.32 109.76 L130.56 109.09 L130.80 108.43 L131.04 107.76 L131.28 107.10 L131.52 106.43 L131.76 105.77 L131.99 105.11 L132.23 104.45 L132.47 103.79 L132.71 103.13 L132.95 102.47 L133.18 101.81 L133.43 101.16 L133.67 100.51 L133.91 99.86 L134.15 99.22 L134.40 98.58 L134.65 97.94 L134.90 97.30 L135.15 96.67 L135.41 96.05 L135.66 95.42 L135.92 94.80 L136.19 94.19 L136.45 93.58 L136.72 92.98 L136.99 92.38 L137.27 91.78 L137.55 91.20 L137.83 90.61 L138.11 90.03 L138.39 89.45 L138.68 88.87 L138.97 88.30 L139.26 87.73 L139.55 87.16 L139.84 86.59 L140.13 86.03 L140.42 85.46 L140.71 84.90 L141.00 84.33 L141.28 83.77 L141.57 83.21 L141.86 82.64 L142.14 82.08 L142.43 81.51 L142.71 80.94 L142.99 80.37 L143.26 79.79 L143.54 79.22 L143.81 78.64 L144.07 78.05 L144.34 77.47 L144.60 76.88 L144.85 76.28 L145.10 75.68 L145.35 75.08 L145.59 74.47 L145.82 73.85 L146.05 73.23 L146.28 72.60 L146.49 71.96 L146.71 71.32 L146.91 70.67 L147.11 70.01 L147.30 69.35 L147.49 68.68 L147.67 68.00 L147.85 67.32 L148.03 66.63 L148.21 65.94 L148.39 65.25 L148.57 64.55 L148.76 63.86 L148.94 63.16 L149.13 62.46 L149.33 61.77 L149.53 61.08 L149.74 60.38 L149.96 59.69 L150.18 59.01 L150.42 58.33 L150.67 57.65 L150.93 56.98 L151.21 56.32 L151.50 55.66 L151.80 55.01 L152.13 54.37 L152.47 53.74 L152.82 53.12 L153.20 52.51 L153.60 51.92 L154.01 51.34 L154.44 50.78 L154.90 50.25 L155.37 49.73 L155.86 49.25 L156.36 48.80 L156.89 48.38 L157.43 47.99 L157.99 47.64 L158.56 47.32 L159.15 47.05 L159.75 46.80 L160.36 46.59 L160.97 46.42 L161.60 46.28 L162.22 46.18 L162.85 46.11 L163.47 46.08 L164.10 46.08 L164.72 46.11 L165.33 46.18 L165.94 46.28 L166.54 46.41 L167.13 46.58 L167.71 46.78 L168.27 47.02 L168.81 47.28 L169.34 47.58 L169.86 47.90 L170.37 48.26 L170.86 48.64 L171.34 49.04 L171.81 49.47 L172.26 49.92 L172.71 50.39 L173.15 50.89 L173.57 51.40 L173.99 51.92 L174.40 52.47 L174.80 53.03 L175.19 53.60 L175.58 54.18 L175.96 54.77 L176.33 55.38 L176.70 55.99 L177.06 56.60 L177.42 57.23 L177.77 57.85 L178.12 58.48 L178.46 59.11 L178.81 59.74 L179.15 60.37 L179.49 61.00 L179.82 61.63 L180.15 62.26 L180.48 62.88 L180.81 63.51 L181.14 64.14 L181.46 64.76 L181.78 65.39 L182.10 66.01 L182.42 66.64 L182.73 67.26 L183.04 67.89 L183.35 68.51 L183.66 69.13 L183.97 69.76 L184.27 70.38 L184.58 71.00 L184.88 71.62 L185.18 72.24 L185.48 72.86 L185.77 73.48 L186.07 74.10 L186.36 74.72 L186.65 75.34 L186.94 75.95 L187.23 76.57 L187.52 77.19 L187.80 77.81 L188.09 78.42 L188.37 79.04 L188.65 79.65 L188.93 80.27 L189.21 80.88 L189.49 81.50 L189.77 82.11 L190.04 82.72 L190.32 83.34 L190.59 83.95 L190.87 84.56 L191.14 85.17 L191.41 85.78 L191.69 86.39 L191.96 87.00 L192.23 87.61 L192.50 88.22 L192.77 88.83 L193.04 89.44 L193.31 90.05 L193.57 90.65 L193.84 91.26 L194.11 91.87 L194.38 92.47 L194.64 93.08 L194.91 93.68 L195.18 94.29 L195.45 94.89 L195.71 95.50 L195.98 96.10 L196.25 96.70 L196.51 97.31 L196.78 97.91 L197.05 98.51 L197.32 99.11 L197.59 99.71 L197.85 100.31 L198.12 100.91 L198.39 101.51 L198.66 102.11 L198.93 102.71 L199.20 103.31 L199.48 103.91 L199.75 104.50 L200.02 105.10 L200.30 105.70 L200.57 106.30 L200.85 106.89 L201.12 107.49 L201.40 108.08 L201.68 108.68 L201.96 109.27 L202.24 109.86 L202.52 110.46 L202.80 111.05 L203.09 111.64 L203.37 112.24 L203.66 112.83 L203.95 113.42 L204.24 114.01 L204.53 114.60 L204.82 115.19 L205.12 115.78 L205.41 116.37 L205.71 116.96 L206.01 117.55 L206.31 118.14 L206.61 118.72 L206.92 119.31 L207.22 119.90 L207.53 120.48 L207.84 121.07 L208.15 121.65 L208.46 122.24 L208.78 122.82 L209.10 123.41 L209.42 123.99 L209.74 124.57 L210.06 125.15 L210.38 125.74 L210.71 126.32 L211.04 126.90 L211.37 127.48 L211.70 128.05 L212.03 128.63 L212.37 129.21 L212.71 129.78 L213.05 130.36 L213.39 130.93 L213.73 131.51 L214.08 132.08 L214.42 132.65 L214.77 133.22 L215.12 133.79 L215.48 134.36 L215.83 134.93 L216.19 135.49 L216.55 136.06 L216.91 136.62 L217.27 137.19 L217.63 137.75 L218.00 138.31 L218.37 138.87 L218.74 139.43 L219.11 139.98 L219.48 140.54 L219.86 141.10 L220.24 141.65 L220.62 142.20 L221.00 142.75 L221.39 143.30 L221.77 143.85 L222.16 144.40 L222.55 144.94 L222.94 145.48 L223.34 146.03 L223.73 146.57 L224.13 147.11 L224.53 147.64 L224.93 148.18 L225.34 148.72 L225.74 149.25 L226.15 149.78 L226.56 150.31 L226.98 150.84 L227.39 151.36 L227.81 151.89 L228.23 152.41 L228.65 152.93 L229.07 153.45 L229.50 153.97 L229.92 154.48 L230.35 155.00 L230.78 155.51 L231.22 156.02 L231.65 156.53 L232.09 157.03 L232.53 157.54 L232.97 158.04 L233.42 158.54 L233.86 159.04 L234.31 159.53 L234.76 160.03 L235.21 160.52 L235.67 161.01 L236.13 161.50 L236.59 161.98 L237.05 162.47 L237.51 162.95 L237.98 163.43 L238.44 163.90 L238.91 164.38 L239.39 164.85 L239.86 165.32 L240.34 165.78 L240.82 166.25 L241.30 166.71 L241.78 167.17 L242.27 167.63 L242.75 168.08 L243.24 168.54 L243.74 168.99 L244.23 169.43 L244.73 169.88 L245.23 170.32 L245.73 170.76 L246.23 171.20 L246.74 171.63 L247.24 172.07 L247.75 172.49 L248.27 172.92 L248.78 173.34 L249.30 173.77 L249.82 174.18 L250.34 174.60 L250.86 175.01 L251.39 175.42 L251.92 175.83 L252.45 176.23 L252.98 176.63 L253.52 177.03 L254.06 177.43 L254.60 177.82 L255.14 178.21 L255.68 178.59 L256.23 178.98 L256.78 179.36 L257.33 179.73 L257.89 180.11 L258.44 180.48 L259.00 180.85 L259.56 181.21 L260.13 181.57 L260.69 181.93 L261.26 182.28 L261.83 182.63 L262.41 182.98 L262.98 183.33 L263.56 183.67 L264.14 184.01 L264.72 184.34 L265.31 184.67 L265.90 185.00 L266.49 185.32 L267.08 185.65 L267.68 185.96 L268.27 186.28 L268.87 186.59 L269.48 186.89 L270.08 187.20 L270.69 187.50 L271.30 187.79 L271.91 188.08 L272.53 188.37 L273.14 188.66 L273.76 188.94 L274.38 189.22 L275.01 189.49" stroke="#ec2a38" stroke-width="3.0"/>
</g>
<path d="M48.3 223V219 M56.2 223V219 M64.0 223V219 M71.8 223V219 M79.7 223V219 M87.5 223V219 M95.3 223V219 M103.2 223V219 M111.0 223V219 M118.8 223V219 M126.7 223V219 M134.5 223V219 M142.3 223V219 M150.2 223V219 M158.0 223V219 M165.8 223V219 M173.7 223V219 M181.5 223V219 M189.3 223V219 M197.2 223V219 M205.0 223V219 M212.8 223V219 M220.7 223V219 M228.5 223V219 M236.3 223V219 M244.2 223V219 M252.0 223V219 M259.8 223V219 M267.7 223V219 M41 171.5H44.6 M41 120.5H44.6 M41 69.5H44.6" stroke="#111" stroke-width="1.1" fill="none"/>
<rect x="40.5" y="17.5" width="235" height="206" fill="none" stroke="#111" stroke-width="1.15"/>
<text transform="translate(25.6 20.00) scale(0.9 1)" class="t">2</text>
<text transform="translate(25.6 71.80) scale(0.9 1)" class="t">1.5</text>
<text transform="translate(25.6 123.20) scale(0.9 1)" class="t">1</text>
<text transform="translate(25.6 173.70) scale(0.9 1)" class="t">0.5</text>
<text transform="translate(25.6 225.90) scale(0.9 1)" class="t">0</text>
<text transform="translate(39.60 235.1) scale(0.9 1)" class="t" text-anchor="middle">400</text>
<text transform="translate(79.10 235.1) scale(0.9 1)" class="t" text-anchor="middle">450</text>
<text transform="translate(118.60 235.1) scale(0.9 1)" class="t" text-anchor="middle">500</text>
<text transform="translate(158.10 235.1) scale(0.9 1)" class="t" text-anchor="middle">550</text>
<text transform="translate(197.60 235.1) scale(0.9 1)" class="t" text-anchor="middle">600</text>
<text transform="translate(237.10 235.1) scale(0.9 1)" class="t" text-anchor="middle">650</text>
<text transform="translate(276.60 235.1) scale(0.9 1)" class="t" text-anchor="middle">700</text>
<text x="167.9" y="255.5" class="t2" text-anchor="middle">Wavelength (nm)</text>
<text transform="translate(18.5 119.9) rotate(-90)" class="t2" text-anchor="middle">Absorbance</text>
<rect x="283.5" y="17.5" width="63" height="136.5" fill="#fff" stroke="#111" stroke-width="1.0"/>
<path d="M289 24.80H301" stroke="#f7941d" stroke-width="2.2"/>
<text x="303.8" y="28.80" class="tl">5nm</text>
<text transform="translate(324.81 29.10) scale(1.25 1.02)" class="tl">&#981;</text>
<path d="M288 38.53L288.7 37.93H299.5L301.9 39.83L299.5 41.73H288.7L288 41.13Z" fill="#2a2c6a"/>
<text x="303.8" y="43.83" class="tl">15nm</text>
<text transform="translate(330.93 44.13) scale(1.25 1.02)" class="tl">&#981;</text>
<path d="M289 54.86H301" stroke="#9a2b2b" stroke-width="2.2"/>
<text x="303.8" y="58.86" class="tl">20nm</text>
<text transform="translate(330.93 59.16) scale(1.25 1.02)" class="tl">&#981;</text>
<path d="M288 68.59L288.7 67.99H299.5L301.9 69.89L299.5 71.79H288.7L288 71.19Z" fill="#2d5bab"/>
<text x="303.8" y="73.89" class="tl">30nm</text>
<text transform="translate(330.93 74.19) scale(1.25 1.02)" class="tl">&#981;</text>
<path d="M288 83.62L288.7 83.02H299.5L301.9 84.92L299.5 86.82H288.7L288 86.22Z" fill="#1eb6e3"/>
<text x="303.8" y="88.92" class="tl">40nm</text>
<text transform="translate(330.93 89.22) scale(1.25 1.02)" class="tl">&#981;</text>
<path d="M288 98.65L288.7 98.05H299.5L301.9 99.95L299.5 101.85H288.7L288 101.25Z" fill="#6bba47"/>
<text x="303.8" y="103.95" class="tl">50nm</text>
<text transform="translate(330.93 104.25) scale(1.25 1.02)" class="tl">&#981;</text>
<path d="M288 113.68L288.7 113.08H299.5L301.9 114.98L299.5 116.88H288.7L288 116.28Z" fill="#b49ecf"/>
<text x="303.8" y="118.98" class="tl">60nm</text>
<text transform="translate(330.93 119.28) scale(1.25 1.02)" class="tl">&#981;</text>
<path d="M288 128.71L288.7 128.11H299.5L301.9 130.01L299.5 131.91H288.7L288 131.31Z" fill="#fcb61f"/>
<text x="303.8" y="134.01" class="tl">80nm</text>
<text transform="translate(330.93 134.31) scale(1.25 1.02)" class="tl">&#981;</text>
<path d="M288 143.74L288.7 143.14H299.5L301.9 145.04L299.5 146.94H288.7L288 146.34Z" fill="#ec2a38"/>
<text x="303.8" y="149.04" class="tl">100nm</text>
<text transform="translate(337.04 149.34) scale(1.25 1.02)" class="tl">&#981;</text>
</svg>
</body></html>
